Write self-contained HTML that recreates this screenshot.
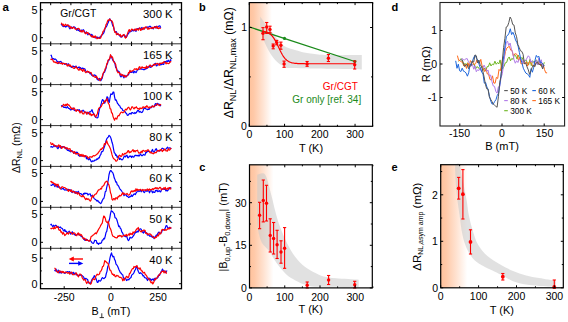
<!DOCTYPE html>
<html><head><meta charset="utf-8"><style>
html,body{margin:0;padding:0;background:#fff;width:568px;height:322px;overflow:hidden}
svg{display:block;font-family:"Liberation Sans", sans-serif}
</style></head><body>
<svg width="568" height="322" viewBox="0 0 568 322">
<rect width="568" height="322" fill="#fff"/>
<line x1="40.50" y1="43.80" x2="181.50" y2="43.80" stroke="#333" stroke-width="1"/>
<line x1="50.70" y1="41.60" x2="50.70" y2="46.00" stroke="#000" stroke-width="1.1"/>
<line x1="70.90" y1="41.60" x2="70.90" y2="46.00" stroke="#000" stroke-width="1.1"/>
<line x1="91.10" y1="41.60" x2="91.10" y2="46.00" stroke="#000" stroke-width="1.1"/>
<line x1="111.30" y1="41.60" x2="111.30" y2="46.00" stroke="#000" stroke-width="1.1"/>
<line x1="131.50" y1="41.60" x2="131.50" y2="46.00" stroke="#000" stroke-width="1.1"/>
<line x1="151.70" y1="41.60" x2="151.70" y2="46.00" stroke="#000" stroke-width="1.1"/>
<line x1="171.90" y1="41.60" x2="171.90" y2="46.00" stroke="#000" stroke-width="1.1"/>
<line x1="60.80" y1="42.90" x2="60.80" y2="44.70" stroke="#000" stroke-width="1.1"/>
<line x1="81.00" y1="42.90" x2="81.00" y2="44.70" stroke="#000" stroke-width="1.1"/>
<line x1="101.20" y1="42.90" x2="101.20" y2="44.70" stroke="#000" stroke-width="1.1"/>
<line x1="121.40" y1="42.90" x2="121.40" y2="44.70" stroke="#000" stroke-width="1.1"/>
<line x1="141.60" y1="42.90" x2="141.60" y2="44.70" stroke="#000" stroke-width="1.1"/>
<line x1="161.80" y1="42.90" x2="161.80" y2="44.70" stroke="#000" stroke-width="1.1"/>
<line x1="40.50" y1="84.60" x2="181.50" y2="84.60" stroke="#333" stroke-width="1"/>
<line x1="50.70" y1="82.40" x2="50.70" y2="86.80" stroke="#000" stroke-width="1.1"/>
<line x1="70.90" y1="82.40" x2="70.90" y2="86.80" stroke="#000" stroke-width="1.1"/>
<line x1="91.10" y1="82.40" x2="91.10" y2="86.80" stroke="#000" stroke-width="1.1"/>
<line x1="111.30" y1="82.40" x2="111.30" y2="86.80" stroke="#000" stroke-width="1.1"/>
<line x1="131.50" y1="82.40" x2="131.50" y2="86.80" stroke="#000" stroke-width="1.1"/>
<line x1="151.70" y1="82.40" x2="151.70" y2="86.80" stroke="#000" stroke-width="1.1"/>
<line x1="171.90" y1="82.40" x2="171.90" y2="86.80" stroke="#000" stroke-width="1.1"/>
<line x1="60.80" y1="83.70" x2="60.80" y2="85.50" stroke="#000" stroke-width="1.1"/>
<line x1="81.00" y1="83.70" x2="81.00" y2="85.50" stroke="#000" stroke-width="1.1"/>
<line x1="101.20" y1="83.70" x2="101.20" y2="85.50" stroke="#000" stroke-width="1.1"/>
<line x1="121.40" y1="83.70" x2="121.40" y2="85.50" stroke="#000" stroke-width="1.1"/>
<line x1="141.60" y1="83.70" x2="141.60" y2="85.50" stroke="#000" stroke-width="1.1"/>
<line x1="161.80" y1="83.70" x2="161.80" y2="85.50" stroke="#000" stroke-width="1.1"/>
<line x1="40.50" y1="125.60" x2="181.50" y2="125.60" stroke="#333" stroke-width="1"/>
<line x1="50.70" y1="123.40" x2="50.70" y2="127.80" stroke="#000" stroke-width="1.1"/>
<line x1="70.90" y1="123.40" x2="70.90" y2="127.80" stroke="#000" stroke-width="1.1"/>
<line x1="91.10" y1="123.40" x2="91.10" y2="127.80" stroke="#000" stroke-width="1.1"/>
<line x1="111.30" y1="123.40" x2="111.30" y2="127.80" stroke="#000" stroke-width="1.1"/>
<line x1="131.50" y1="123.40" x2="131.50" y2="127.80" stroke="#000" stroke-width="1.1"/>
<line x1="151.70" y1="123.40" x2="151.70" y2="127.80" stroke="#000" stroke-width="1.1"/>
<line x1="171.90" y1="123.40" x2="171.90" y2="127.80" stroke="#000" stroke-width="1.1"/>
<line x1="60.80" y1="124.70" x2="60.80" y2="126.50" stroke="#000" stroke-width="1.1"/>
<line x1="81.00" y1="124.70" x2="81.00" y2="126.50" stroke="#000" stroke-width="1.1"/>
<line x1="101.20" y1="124.70" x2="101.20" y2="126.50" stroke="#000" stroke-width="1.1"/>
<line x1="121.40" y1="124.70" x2="121.40" y2="126.50" stroke="#000" stroke-width="1.1"/>
<line x1="141.60" y1="124.70" x2="141.60" y2="126.50" stroke="#000" stroke-width="1.1"/>
<line x1="161.80" y1="124.70" x2="161.80" y2="126.50" stroke="#000" stroke-width="1.1"/>
<line x1="40.50" y1="166.40" x2="181.50" y2="166.40" stroke="#333" stroke-width="1"/>
<line x1="50.70" y1="164.20" x2="50.70" y2="168.60" stroke="#000" stroke-width="1.1"/>
<line x1="70.90" y1="164.20" x2="70.90" y2="168.60" stroke="#000" stroke-width="1.1"/>
<line x1="91.10" y1="164.20" x2="91.10" y2="168.60" stroke="#000" stroke-width="1.1"/>
<line x1="111.30" y1="164.20" x2="111.30" y2="168.60" stroke="#000" stroke-width="1.1"/>
<line x1="131.50" y1="164.20" x2="131.50" y2="168.60" stroke="#000" stroke-width="1.1"/>
<line x1="151.70" y1="164.20" x2="151.70" y2="168.60" stroke="#000" stroke-width="1.1"/>
<line x1="171.90" y1="164.20" x2="171.90" y2="168.60" stroke="#000" stroke-width="1.1"/>
<line x1="60.80" y1="165.50" x2="60.80" y2="167.30" stroke="#000" stroke-width="1.1"/>
<line x1="81.00" y1="165.50" x2="81.00" y2="167.30" stroke="#000" stroke-width="1.1"/>
<line x1="101.20" y1="165.50" x2="101.20" y2="167.30" stroke="#000" stroke-width="1.1"/>
<line x1="121.40" y1="165.50" x2="121.40" y2="167.30" stroke="#000" stroke-width="1.1"/>
<line x1="141.60" y1="165.50" x2="141.60" y2="167.30" stroke="#000" stroke-width="1.1"/>
<line x1="161.80" y1="165.50" x2="161.80" y2="167.30" stroke="#000" stroke-width="1.1"/>
<line x1="40.50" y1="207.30" x2="181.50" y2="207.30" stroke="#333" stroke-width="1"/>
<line x1="50.70" y1="205.10" x2="50.70" y2="209.50" stroke="#000" stroke-width="1.1"/>
<line x1="70.90" y1="205.10" x2="70.90" y2="209.50" stroke="#000" stroke-width="1.1"/>
<line x1="91.10" y1="205.10" x2="91.10" y2="209.50" stroke="#000" stroke-width="1.1"/>
<line x1="111.30" y1="205.10" x2="111.30" y2="209.50" stroke="#000" stroke-width="1.1"/>
<line x1="131.50" y1="205.10" x2="131.50" y2="209.50" stroke="#000" stroke-width="1.1"/>
<line x1="151.70" y1="205.10" x2="151.70" y2="209.50" stroke="#000" stroke-width="1.1"/>
<line x1="171.90" y1="205.10" x2="171.90" y2="209.50" stroke="#000" stroke-width="1.1"/>
<line x1="60.80" y1="206.40" x2="60.80" y2="208.20" stroke="#000" stroke-width="1.1"/>
<line x1="81.00" y1="206.40" x2="81.00" y2="208.20" stroke="#000" stroke-width="1.1"/>
<line x1="101.20" y1="206.40" x2="101.20" y2="208.20" stroke="#000" stroke-width="1.1"/>
<line x1="121.40" y1="206.40" x2="121.40" y2="208.20" stroke="#000" stroke-width="1.1"/>
<line x1="141.60" y1="206.40" x2="141.60" y2="208.20" stroke="#000" stroke-width="1.1"/>
<line x1="161.80" y1="206.40" x2="161.80" y2="208.20" stroke="#000" stroke-width="1.1"/>
<line x1="40.50" y1="248.30" x2="181.50" y2="248.30" stroke="#333" stroke-width="1"/>
<line x1="50.70" y1="246.10" x2="50.70" y2="250.50" stroke="#000" stroke-width="1.1"/>
<line x1="70.90" y1="246.10" x2="70.90" y2="250.50" stroke="#000" stroke-width="1.1"/>
<line x1="91.10" y1="246.10" x2="91.10" y2="250.50" stroke="#000" stroke-width="1.1"/>
<line x1="111.30" y1="246.10" x2="111.30" y2="250.50" stroke="#000" stroke-width="1.1"/>
<line x1="131.50" y1="246.10" x2="131.50" y2="250.50" stroke="#000" stroke-width="1.1"/>
<line x1="151.70" y1="246.10" x2="151.70" y2="250.50" stroke="#000" stroke-width="1.1"/>
<line x1="171.90" y1="246.10" x2="171.90" y2="250.50" stroke="#000" stroke-width="1.1"/>
<line x1="60.80" y1="247.40" x2="60.80" y2="249.20" stroke="#000" stroke-width="1.1"/>
<line x1="81.00" y1="247.40" x2="81.00" y2="249.20" stroke="#000" stroke-width="1.1"/>
<line x1="101.20" y1="247.40" x2="101.20" y2="249.20" stroke="#000" stroke-width="1.1"/>
<line x1="121.40" y1="247.40" x2="121.40" y2="249.20" stroke="#000" stroke-width="1.1"/>
<line x1="141.60" y1="247.40" x2="141.60" y2="249.20" stroke="#000" stroke-width="1.1"/>
<line x1="161.80" y1="247.40" x2="161.80" y2="249.20" stroke="#000" stroke-width="1.1"/>
<line x1="50.70" y1="2.70" x2="50.70" y2="5.20" stroke="#000" stroke-width="1"/>
<line x1="70.90" y1="2.70" x2="70.90" y2="5.20" stroke="#000" stroke-width="1"/>
<line x1="91.10" y1="2.70" x2="91.10" y2="5.20" stroke="#000" stroke-width="1"/>
<line x1="111.30" y1="2.70" x2="111.30" y2="5.20" stroke="#000" stroke-width="1"/>
<line x1="131.50" y1="2.70" x2="131.50" y2="5.20" stroke="#000" stroke-width="1"/>
<line x1="151.70" y1="2.70" x2="151.70" y2="5.20" stroke="#000" stroke-width="1"/>
<line x1="171.90" y1="2.70" x2="171.90" y2="5.20" stroke="#000" stroke-width="1"/>
<line x1="60.80" y1="2.70" x2="60.80" y2="3.90" stroke="#000" stroke-width="1"/>
<line x1="81.00" y1="2.70" x2="81.00" y2="3.90" stroke="#000" stroke-width="1"/>
<line x1="101.20" y1="2.70" x2="101.20" y2="3.90" stroke="#000" stroke-width="1"/>
<line x1="121.40" y1="2.70" x2="121.40" y2="3.90" stroke="#000" stroke-width="1"/>
<line x1="141.60" y1="2.70" x2="141.60" y2="3.90" stroke="#000" stroke-width="1"/>
<line x1="161.80" y1="2.70" x2="161.80" y2="3.90" stroke="#000" stroke-width="1"/>
<line x1="64.20" y1="288.70" x2="64.20" y2="286.20" stroke="#000" stroke-width="1"/>
<line x1="87.70" y1="288.70" x2="87.70" y2="287.20" stroke="#000" stroke-width="1"/>
<line x1="111.10" y1="288.70" x2="111.10" y2="286.20" stroke="#000" stroke-width="1"/>
<line x1="134.60" y1="288.70" x2="134.60" y2="287.20" stroke="#000" stroke-width="1"/>
<line x1="158.10" y1="288.70" x2="158.10" y2="286.20" stroke="#000" stroke-width="1"/>
<line x1="40.50" y1="9.80" x2="43.00" y2="9.80" stroke="#000" stroke-width="1"/>
<line x1="181.50" y1="9.80" x2="179.00" y2="9.80" stroke="#000" stroke-width="1"/>
<line x1="40.50" y1="37.70" x2="43.00" y2="37.70" stroke="#000" stroke-width="1"/>
<line x1="181.50" y1="37.70" x2="179.00" y2="37.70" stroke="#000" stroke-width="1"/>
<line x1="40.50" y1="23.75" x2="41.80" y2="23.75" stroke="#000" stroke-width="1"/>
<line x1="181.50" y1="23.75" x2="180.20" y2="23.75" stroke="#000" stroke-width="1"/>
<text x="37.60" y="13.70" font-size="10.8" text-anchor="end" font-weight="normal" fill="#000">5</text>
<text x="37.60" y="41.60" font-size="10.8" text-anchor="end" font-weight="normal" fill="#000">0</text>
<line x1="40.50" y1="50.90" x2="43.00" y2="50.90" stroke="#000" stroke-width="1"/>
<line x1="181.50" y1="50.90" x2="179.00" y2="50.90" stroke="#000" stroke-width="1"/>
<line x1="40.50" y1="78.80" x2="43.00" y2="78.80" stroke="#000" stroke-width="1"/>
<line x1="181.50" y1="78.80" x2="179.00" y2="78.80" stroke="#000" stroke-width="1"/>
<line x1="40.50" y1="64.85" x2="41.80" y2="64.85" stroke="#000" stroke-width="1"/>
<line x1="181.50" y1="64.85" x2="180.20" y2="64.85" stroke="#000" stroke-width="1"/>
<text x="37.60" y="54.80" font-size="10.8" text-anchor="end" font-weight="normal" fill="#000">5</text>
<text x="37.60" y="82.70" font-size="10.8" text-anchor="end" font-weight="normal" fill="#000">0</text>
<line x1="40.50" y1="91.70" x2="43.00" y2="91.70" stroke="#000" stroke-width="1"/>
<line x1="181.50" y1="91.70" x2="179.00" y2="91.70" stroke="#000" stroke-width="1"/>
<line x1="40.50" y1="119.60" x2="43.00" y2="119.60" stroke="#000" stroke-width="1"/>
<line x1="181.50" y1="119.60" x2="179.00" y2="119.60" stroke="#000" stroke-width="1"/>
<line x1="40.50" y1="105.65" x2="41.80" y2="105.65" stroke="#000" stroke-width="1"/>
<line x1="181.50" y1="105.65" x2="180.20" y2="105.65" stroke="#000" stroke-width="1"/>
<text x="37.60" y="95.60" font-size="10.8" text-anchor="end" font-weight="normal" fill="#000">5</text>
<text x="37.60" y="123.50" font-size="10.8" text-anchor="end" font-weight="normal" fill="#000">0</text>
<line x1="40.50" y1="132.70" x2="43.00" y2="132.70" stroke="#000" stroke-width="1"/>
<line x1="181.50" y1="132.70" x2="179.00" y2="132.70" stroke="#000" stroke-width="1"/>
<line x1="40.50" y1="160.60" x2="43.00" y2="160.60" stroke="#000" stroke-width="1"/>
<line x1="181.50" y1="160.60" x2="179.00" y2="160.60" stroke="#000" stroke-width="1"/>
<line x1="40.50" y1="146.65" x2="41.80" y2="146.65" stroke="#000" stroke-width="1"/>
<line x1="181.50" y1="146.65" x2="180.20" y2="146.65" stroke="#000" stroke-width="1"/>
<text x="37.60" y="136.60" font-size="10.8" text-anchor="end" font-weight="normal" fill="#000">5</text>
<text x="37.60" y="164.50" font-size="10.8" text-anchor="end" font-weight="normal" fill="#000">0</text>
<line x1="40.50" y1="173.50" x2="43.00" y2="173.50" stroke="#000" stroke-width="1"/>
<line x1="181.50" y1="173.50" x2="179.00" y2="173.50" stroke="#000" stroke-width="1"/>
<line x1="40.50" y1="201.40" x2="43.00" y2="201.40" stroke="#000" stroke-width="1"/>
<line x1="181.50" y1="201.40" x2="179.00" y2="201.40" stroke="#000" stroke-width="1"/>
<line x1="40.50" y1="187.45" x2="41.80" y2="187.45" stroke="#000" stroke-width="1"/>
<line x1="181.50" y1="187.45" x2="180.20" y2="187.45" stroke="#000" stroke-width="1"/>
<text x="37.60" y="177.40" font-size="10.8" text-anchor="end" font-weight="normal" fill="#000">5</text>
<text x="37.60" y="205.30" font-size="10.8" text-anchor="end" font-weight="normal" fill="#000">0</text>
<line x1="40.50" y1="214.40" x2="43.00" y2="214.40" stroke="#000" stroke-width="1"/>
<line x1="181.50" y1="214.40" x2="179.00" y2="214.40" stroke="#000" stroke-width="1"/>
<line x1="40.50" y1="242.30" x2="43.00" y2="242.30" stroke="#000" stroke-width="1"/>
<line x1="181.50" y1="242.30" x2="179.00" y2="242.30" stroke="#000" stroke-width="1"/>
<line x1="40.50" y1="228.35" x2="41.80" y2="228.35" stroke="#000" stroke-width="1"/>
<line x1="181.50" y1="228.35" x2="180.20" y2="228.35" stroke="#000" stroke-width="1"/>
<text x="37.60" y="218.30" font-size="10.8" text-anchor="end" font-weight="normal" fill="#000">5</text>
<text x="37.60" y="246.20" font-size="10.8" text-anchor="end" font-weight="normal" fill="#000">0</text>
<line x1="40.50" y1="258.10" x2="43.00" y2="258.10" stroke="#000" stroke-width="1"/>
<line x1="181.50" y1="258.10" x2="179.00" y2="258.10" stroke="#000" stroke-width="1"/>
<line x1="40.50" y1="283.70" x2="43.00" y2="283.70" stroke="#000" stroke-width="1"/>
<line x1="181.50" y1="283.70" x2="179.00" y2="283.70" stroke="#000" stroke-width="1"/>
<line x1="40.50" y1="270.90" x2="41.80" y2="270.90" stroke="#000" stroke-width="1"/>
<line x1="181.50" y1="270.90" x2="180.20" y2="270.90" stroke="#000" stroke-width="1"/>
<text x="37.60" y="262.00" font-size="10.8" text-anchor="end" font-weight="normal" fill="#000">5</text>
<text x="37.60" y="287.60" font-size="10.8" text-anchor="end" font-weight="normal" fill="#000">0</text>
<rect x="40.5" y="2.7" width="141.0" height="286.0" fill="none" stroke="#000" stroke-width="1.3"/>
<text x="172.60" y="18.20" font-size="11.3" text-anchor="end" font-weight="normal" fill="#000">300 K</text>
<text x="172.60" y="59.30" font-size="11.3" text-anchor="end" font-weight="normal" fill="#000">165 K</text>
<text x="172.60" y="100.10" font-size="11.3" text-anchor="end" font-weight="normal" fill="#000">100 K</text>
<text x="172.60" y="141.10" font-size="11.3" text-anchor="end" font-weight="normal" fill="#000">80 K</text>
<text x="172.60" y="181.90" font-size="11.3" text-anchor="end" font-weight="normal" fill="#000">60 K</text>
<text x="172.60" y="222.80" font-size="11.3" text-anchor="end" font-weight="normal" fill="#000">50 K</text>
<text x="172.60" y="263.80" font-size="11.3" text-anchor="end" font-weight="normal" fill="#000">40 K</text>
<text x="60.20" y="17.40" font-size="10.3" text-anchor="start" font-weight="normal" fill="#000">Gr/CGT</text>
<polyline points="61.00,23.94 61.75,24.73 62.50,26.04 63.25,26.36 64.00,26.67 64.75,25.99 65.50,27.02 66.25,26.65 67.00,25.31 67.75,26.16 68.50,25.32 69.25,27.85 70.00,28.78 70.75,27.35 71.50,26.97 72.25,28.36 73.00,27.21 73.75,26.92 74.50,26.99 75.25,27.61 76.00,28.76 76.75,30.25 77.50,28.56 78.25,30.55 79.00,30.16 79.75,31.30 80.50,31.61 81.25,29.95 82.00,31.13 82.75,30.14 83.50,29.70 84.25,30.96 85.00,32.68 85.75,32.80 86.50,31.93 87.25,33.84 88.00,34.84 88.75,33.33 89.50,33.73 90.25,34.66 91.00,36.01 91.75,34.35 92.50,35.39 93.25,37.21 94.00,36.93 94.75,37.38 95.50,37.91 96.25,37.48 97.00,36.92 97.75,37.88 98.50,38.01 99.25,37.07 100.00,38.05 100.75,36.59 101.50,35.36 102.25,34.88 103.00,33.95 103.75,32.97 104.50,30.72 105.25,27.56 106.00,27.15 106.75,25.97 107.50,23.92 108.25,22.51 109.00,20.32 109.75,18.79 110.50,20.35 111.25,20.49 112.00,23.08 112.75,25.92 113.50,26.39 114.25,29.89 115.00,32.08 115.75,31.49 116.50,31.87 117.25,34.38 118.00,34.13 118.75,34.48 119.50,35.72 120.25,36.39 121.00,37.08 121.75,36.95 122.50,36.21 123.25,35.07 124.00,35.09 124.75,35.38 125.50,36.52 126.25,37.49 127.00,36.02 127.75,34.13 128.50,33.77 129.25,31.65 130.00,31.93 130.75,31.50 131.50,31.26 132.25,30.50 133.00,30.48 133.75,30.90 134.50,29.36 135.25,30.77 136.00,31.36 136.75,29.02 137.50,28.72 138.25,28.74 139.00,28.24 139.75,28.18 140.50,29.49 141.25,28.13 142.00,27.38 142.75,29.61 143.50,28.47 144.25,28.36 145.00,27.96 145.75,27.46 146.50,27.60 147.25,26.82 148.00,27.69 148.75,26.93 149.50,26.34 150.25,26.31 151.00,26.87 151.75,28.55 152.50,28.01 153.25,28.96 154.00,27.46 154.75,26.55 155.50,27.58 156.25,26.29 157.00,28.28 157.75,27.01 158.50,26.23 159.25,25.95 160.00,25.93 160.75,27.77" fill="none" stroke="#0000ff" stroke-width="1.2" stroke-linejoin="round"/>
<polyline points="61.00,23.14 61.75,23.43 62.50,25.19 63.25,24.18 64.00,26.19 64.75,25.17 65.50,24.26 66.25,25.43 67.00,25.12 67.75,24.74 68.50,25.56 69.25,26.52 70.00,26.16 70.75,28.19 71.50,27.30 72.25,28.40 73.00,27.84 73.75,27.08 74.50,28.01 75.25,29.20 76.00,29.12 76.75,29.72 77.50,28.50 78.25,28.40 79.00,28.54 79.75,29.86 80.50,31.57 81.25,30.84 82.00,32.13 82.75,30.59 83.50,30.67 84.25,32.23 85.00,33.23 85.75,33.76 86.50,32.17 87.25,33.08 88.00,32.63 88.75,34.23 89.50,34.40 90.25,35.01 91.00,35.76 91.75,36.85 92.50,35.88 93.25,37.44 94.00,36.04 94.75,37.60 95.50,35.96 96.25,37.53 97.00,38.76 97.75,38.33 98.50,37.65 99.25,38.41 100.00,38.33 100.75,37.73 101.50,35.29 102.25,34.11 103.00,31.29 103.75,31.08 104.50,29.06 105.25,28.20 106.00,24.66 106.75,23.57 107.50,21.06 108.25,19.96 109.00,20.44 109.75,19.03 110.50,20.17 111.25,20.72 112.00,21.14 112.75,22.66 113.50,26.44 114.25,30.57 115.00,32.40 115.75,31.86 116.50,34.74 117.25,34.13 118.00,33.51 118.75,34.84 119.50,35.24 120.25,34.39 121.00,36.87 121.75,35.91 122.50,35.89 123.25,34.85 124.00,34.47 124.75,37.19 125.50,38.07 126.25,37.33 127.00,35.15 127.75,32.91 128.50,30.87 129.25,29.51 130.00,31.46 130.75,30.83 131.50,29.16 132.25,29.24 133.00,29.83 133.75,30.12 134.50,30.15 135.25,28.95 136.00,30.52 136.75,28.83 137.50,29.30 138.25,30.24 139.00,28.60 139.75,27.79 140.50,30.34 141.25,30.11 142.00,28.43 142.75,29.23 143.50,27.69 144.25,29.30 145.00,27.31 145.75,26.92 146.50,27.10 147.25,28.32 148.00,29.38 148.75,27.78 149.50,28.85 150.25,28.05 151.00,27.91 151.75,28.48 152.50,27.30 153.25,28.32 154.00,27.49 154.75,26.64 155.50,27.80 156.25,27.72 157.00,26.24 157.75,28.47 158.50,28.57 159.25,27.60 160.00,28.31 160.75,28.40" fill="none" stroke="#ff0000" stroke-width="1.2" stroke-linejoin="round"/>
<polyline points="50.50,55.54 51.25,55.18 52.00,57.88 52.75,59.07 53.50,58.56 54.25,59.50 55.00,58.93 55.75,59.29 56.50,60.10 57.25,62.05 58.00,61.37 58.75,63.54 59.50,61.65 60.25,61.60 61.00,61.42 61.75,63.56 62.50,63.15 63.25,63.49 64.00,63.31 64.75,64.34 65.50,64.10 66.25,63.60 67.00,64.26 67.75,64.24 68.50,63.80 69.25,65.96 70.00,66.33 70.75,66.55 71.50,67.42 72.25,66.37 73.00,66.16 73.75,66.38 74.50,66.54 75.25,67.54 76.00,66.00 76.75,67.07 77.50,67.75 78.25,67.61 79.00,66.80 79.75,68.80 80.50,67.52 81.25,69.00 82.00,68.42 82.75,68.09 83.50,68.63 84.25,68.65 85.00,69.11 85.75,71.05 86.50,71.97 87.25,71.35 88.00,72.23 88.75,72.16 89.50,72.42 90.25,73.95 91.00,73.26 91.75,75.19 92.50,75.69 93.25,76.28 94.00,74.89 94.75,75.17 95.50,75.40 96.25,76.62 97.00,79.03 97.75,79.79 98.50,80.16 99.25,78.36 100.00,79.83 100.75,80.72 101.50,79.59 102.25,78.09 103.00,74.62 103.75,72.63 104.50,72.23 105.25,70.19 106.00,68.36 106.75,64.81 107.50,63.68 108.25,60.06 109.00,60.27 109.75,58.94 110.50,56.12 111.25,55.98 112.00,58.19 112.75,60.07 113.50,61.01 114.25,61.79 115.00,64.02 115.75,67.65 116.50,67.86 117.25,71.24 118.00,70.93 118.75,71.51 119.50,72.20 120.25,75.82 121.00,76.95 121.75,75.73 122.50,74.96 123.25,76.66 124.00,77.86 124.75,75.25 125.50,76.11 126.25,76.82 127.00,75.61 127.75,75.11 128.50,74.77 129.25,72.23 130.00,71.57 130.75,72.50 131.50,72.36 132.25,72.17 133.00,71.42 133.75,72.91 134.50,71.32 135.25,71.92 136.00,72.65 136.75,71.30 137.50,69.76 138.25,69.71 139.00,69.14 139.75,69.09 140.50,68.77 141.25,69.14 142.00,69.15 142.75,69.19 143.50,69.67 144.25,69.65 145.00,69.49 145.75,68.28 146.50,68.62 147.25,68.19 148.00,66.61 148.75,67.19 149.50,66.50 150.25,67.17 151.00,67.36 151.75,65.74 152.50,65.64 153.25,65.53 154.00,64.86 154.75,63.73 155.50,63.26 156.25,65.79 157.00,65.63 157.75,64.52 158.50,64.72 159.25,63.42 160.00,64.20 160.75,64.99 161.50,64.54 162.25,63.32 163.00,64.35 163.75,64.32 164.50,61.55 165.25,61.63 166.00,61.61 166.75,60.91 167.50,61.57 168.25,60.19 169.00,61.43 169.75,61.97 170.50,59.59 171.25,60.61" fill="none" stroke="#0000ff" stroke-width="1.2" stroke-linejoin="round"/>
<polyline points="50.50,59.00 51.25,59.62 52.00,59.01 52.75,59.83 53.50,61.65 54.25,62.18 55.00,61.83 55.75,62.75 56.50,62.28 57.25,63.54 58.00,63.31 58.75,61.98 59.50,63.02 60.25,63.21 61.00,63.60 61.75,62.90 62.50,64.29 63.25,63.34 64.00,63.53 64.75,63.57 65.50,63.81 66.25,63.78 67.00,65.64 67.75,66.08 68.50,64.46 69.25,65.77 70.00,64.82 70.75,66.38 71.50,66.29 72.25,66.81 73.00,67.79 73.75,68.29 74.50,68.30 75.25,67.29 76.00,66.54 76.75,67.94 77.50,68.36 78.25,69.76 79.00,70.32 79.75,68.59 80.50,68.92 81.25,70.10 82.00,69.76 82.75,71.48 83.50,69.32 84.25,70.05 85.00,71.74 85.75,72.74 86.50,71.89 87.25,71.06 88.00,72.01 88.75,71.66 89.50,72.86 90.25,72.48 91.00,72.46 91.75,74.10 92.50,75.61 93.25,75.68 94.00,76.47 94.75,77.11 95.50,77.43 96.25,76.13 97.00,77.06 97.75,79.05 98.50,78.77 99.25,79.71 100.00,80.72 100.75,78.49 101.50,78.42 102.25,76.59 103.00,73.53 103.75,72.22 104.50,70.95 105.25,68.66 106.00,67.48 106.75,63.85 107.50,62.62 108.25,60.02 109.00,59.60 109.75,58.35 110.50,54.69 111.25,57.10 112.00,56.51 112.75,57.80 113.50,61.34 114.25,62.50 115.00,63.02 115.75,64.54 116.50,69.35 117.25,71.21 118.00,72.85 118.75,72.30 119.50,72.85 120.25,74.99 121.00,74.00 121.75,75.51 122.50,74.88 123.25,75.03 124.00,76.77 124.75,75.42 125.50,77.06 126.25,76.38 127.00,75.76 127.75,75.14 128.50,72.56 129.25,72.97 130.00,70.28 130.75,71.98 131.50,71.19 132.25,71.00 133.00,70.59 133.75,69.83 134.50,68.77 135.25,68.84 136.00,69.56 136.75,68.61 137.50,69.61 138.25,69.44 139.00,67.22 139.75,66.60 140.50,68.62 141.25,68.19 142.00,66.77 142.75,67.45 143.50,67.62 144.25,68.06 145.00,67.40 145.75,68.48 146.50,65.97 147.25,67.74 148.00,67.64 148.75,66.53 149.50,65.29 150.25,64.95 151.00,66.44 151.75,66.68 152.50,66.26 153.25,64.67 154.00,64.13 154.75,65.02 155.50,64.03 156.25,64.19 157.00,63.32 157.75,63.54 158.50,64.48 159.25,65.40 160.00,63.20 160.75,63.28 161.50,63.29 162.25,62.85 163.00,63.17 163.75,61.93 164.50,62.01 165.25,62.15 166.00,63.86 166.75,62.58 167.50,63.26 168.25,63.58 169.00,63.35 169.75,62.39 170.50,61.63 171.25,61.92" fill="none" stroke="#ff0000" stroke-width="1.2" stroke-linejoin="round"/>
<polyline points="61.30,105.24 62.05,106.53 62.80,105.71 63.55,107.23 64.30,107.50 65.05,107.05 65.80,107.75 66.55,107.95 67.30,106.57 68.05,107.75 68.80,108.51 69.55,108.58 70.30,109.81 71.05,109.89 71.80,108.97 72.55,108.38 73.30,108.04 74.05,110.13 74.80,110.53 75.55,110.54 76.30,110.18 77.05,110.38 77.80,109.73 78.55,110.55 79.30,109.75 80.05,111.04 80.80,111.56 81.55,111.94 82.30,110.89 83.05,110.21 83.80,110.84 84.55,112.20 85.30,112.18 86.05,112.99 86.80,112.39 87.55,112.21 88.30,113.79 89.05,112.15 89.80,111.88 90.55,111.84 91.30,110.78 92.05,109.63 92.80,112.46 93.55,113.48 94.30,114.91 95.05,116.58 95.80,117.47 96.55,117.76 97.30,117.93 98.05,117.22 98.80,112.30 99.55,108.80 100.30,107.22 101.05,104.53 101.80,101.19 102.55,99.59 103.30,100.30 104.05,102.93 104.80,103.05 105.55,100.58 106.30,99.75 107.05,96.74 107.80,97.46 108.55,101.12 109.30,102.48 110.05,97.53 110.80,93.81 111.55,94.47 112.30,94.23 113.05,92.01 113.80,92.13 114.55,96.83 115.30,100.13 116.05,99.80 116.80,101.47 117.55,103.67 118.30,104.08 119.05,105.56 119.80,105.87 120.55,107.71 121.30,108.24 122.05,108.69 122.80,110.49 123.55,110.75 124.30,111.06 125.05,111.65 125.80,113.01 126.55,113.51 127.30,115.29 128.05,115.27 128.80,114.33 129.55,113.50 130.30,113.26 131.05,114.21 131.80,112.55 132.55,112.52 133.30,113.22 134.05,113.55 134.80,112.49 135.55,113.26 136.30,112.83 137.05,111.39 137.80,110.50 138.55,110.41 139.30,112.18 140.05,111.31 140.80,112.14 141.55,112.55 142.30,112.30 143.05,110.65 143.80,108.55 144.55,108.50 145.30,108.08 146.05,109.02 146.80,109.24 147.55,109.74 148.30,109.01 149.05,109.33 149.80,108.23 150.55,107.19 151.30,107.74 152.05,105.99 152.80,106.75 153.55,106.60 154.30,106.75 155.05,104.15 155.80,103.52 156.55,105.40 157.30,103.31 158.05,103.69 158.80,104.36 159.55,104.27 160.30,105.51 161.05,106.17" fill="none" stroke="#0000ff" stroke-width="1.2" stroke-linejoin="round"/>
<polyline points="61.30,107.09 62.05,106.60 62.80,105.50 63.55,104.27 64.30,105.08 65.05,105.95 65.80,104.33 66.55,105.47 67.30,103.77 68.05,105.07 68.80,104.81 69.55,105.95 70.30,106.97 71.05,108.35 71.80,108.09 72.55,109.39 73.30,108.48 74.05,107.95 74.80,109.13 75.55,110.57 76.30,111.32 77.05,109.86 77.80,110.27 78.55,110.48 79.30,111.33 80.05,112.88 80.80,111.69 81.55,110.79 82.30,113.20 83.05,113.96 83.80,114.02 84.55,111.97 85.30,112.15 86.05,112.08 86.80,114.39 87.55,112.84 88.30,112.51 89.05,112.82 89.80,114.75 90.55,113.64 91.30,115.75 92.05,114.44 92.80,115.17 93.55,114.10 94.30,114.17 95.05,116.00 95.80,117.04 96.55,115.17 97.30,113.98 98.05,110.53 98.80,108.17 99.55,107.67 100.30,107.37 101.05,106.82 101.80,105.36 102.55,103.60 103.30,103.48 104.05,102.06 104.80,100.86 105.55,101.62 106.30,99.92 107.05,98.46 107.80,101.70 108.55,103.72 109.30,104.76 110.05,108.64 110.80,108.98 111.55,112.86 112.30,113.09 113.05,116.60 113.80,118.46 114.55,120.17 115.30,118.14 116.05,118.38 116.80,119.09 117.55,116.59 118.30,115.46 119.05,115.78 119.80,114.14 120.55,112.96 121.30,112.02 122.05,112.27 122.80,112.80 123.55,112.06 124.30,111.94 125.05,109.84 125.80,109.11 126.55,109.95 127.30,108.65 128.05,107.50 128.80,107.19 129.55,108.76 130.30,110.01 131.05,108.87 131.80,106.92 132.55,106.77 133.30,108.05 134.05,108.89 134.80,107.44 135.55,107.84 136.30,106.71 137.05,107.94 137.80,109.00 138.55,108.60 139.30,109.39 140.05,107.89 140.80,108.62 141.55,108.16 142.30,108.32 143.05,106.68 143.80,107.23 144.55,107.80 145.30,106.72 146.05,107.25 146.80,105.71 147.55,106.35 148.30,108.01 149.05,107.53 149.80,106.87 150.55,107.67 151.30,107.28 152.05,106.51 152.80,105.78 153.55,106.97 154.30,106.29 155.05,105.77 155.80,105.16 156.55,104.23 157.30,103.96 158.05,105.02 158.80,105.05 159.55,105.67 160.30,104.79 161.05,104.23" fill="none" stroke="#ff0000" stroke-width="1.2" stroke-linejoin="round"/>
<polyline points="50.50,147.44 51.25,146.43 52.00,147.01 52.75,147.32 53.50,145.94 54.25,145.21 55.00,146.65 55.75,145.73 56.50,146.33 57.25,148.12 58.00,148.70 58.75,146.70 59.50,146.08 60.25,146.41 61.00,148.41 61.75,146.69 62.50,146.87 63.25,146.66 64.00,146.75 64.75,148.05 65.50,147.63 66.25,148.41 67.00,149.82 67.75,150.43 68.50,149.89 69.25,151.06 70.00,150.97 70.75,151.92 71.50,150.68 72.25,150.88 73.00,151.79 73.75,153.36 74.50,153.06 75.25,152.75 76.00,152.20 76.75,152.33 77.50,152.39 78.25,155.00 79.00,155.74 79.75,156.25 80.50,155.56 81.25,156.16 82.00,155.36 82.75,155.94 83.50,155.36 84.25,156.27 85.00,156.31 85.75,156.12 86.50,158.78 87.25,157.37 88.00,159.36 88.75,159.87 89.50,158.46 90.25,159.39 91.00,161.22 91.75,161.82 92.50,160.80 93.25,161.19 94.00,161.19 94.75,160.01 95.50,160.14 96.25,159.83 97.00,158.72 97.75,159.26 98.50,157.90 99.25,158.00 100.00,155.58 100.75,154.72 101.50,151.94 102.25,151.69 103.00,151.06 103.75,148.65 104.50,146.45 105.25,144.36 106.00,140.99 106.75,138.89 107.50,137.76 108.25,137.11 109.00,135.39 109.75,136.00 110.50,137.16 111.25,139.27 112.00,142.28 112.75,144.68 113.50,148.78 114.25,152.66 115.00,153.14 115.75,155.45 116.50,154.97 117.25,157.49 118.00,156.53 118.75,157.31 119.50,159.44 120.25,158.27 121.00,159.28 121.75,159.79 122.50,159.72 123.25,158.49 124.00,156.68 124.75,156.02 125.50,156.93 126.25,155.61 127.00,155.19 127.75,157.73 128.50,157.71 129.25,156.18 130.00,156.43 130.75,156.00 131.50,157.53 132.25,156.15 133.00,156.96 133.75,157.17 134.50,155.88 135.25,155.20 136.00,155.72 136.75,155.42 137.50,155.83 138.25,155.06 139.00,156.14 139.75,155.23 140.50,153.90 141.25,155.24 142.00,155.83 142.75,155.19 143.50,154.42 144.25,154.99 145.00,155.17 145.75,152.28 146.50,152.67 147.25,151.21 148.00,151.54 148.75,151.19 149.50,151.57 150.25,152.15 151.00,152.70 151.75,150.89 152.50,149.43 153.25,151.88 154.00,151.86 154.75,151.05 155.50,149.40 156.25,148.62 157.00,150.92 157.75,150.30 158.50,151.00 159.25,150.88 160.00,150.64 160.75,150.63 161.50,148.86 162.25,148.21 163.00,148.47 163.75,149.45 164.50,149.72 165.25,149.59 166.00,148.91 166.75,148.30 167.50,147.16 168.25,148.13 169.00,148.28 169.75,147.81 170.50,148.20 171.25,148.97" fill="none" stroke="#0000ff" stroke-width="1.2" stroke-linejoin="round"/>
<polyline points="50.50,142.27 51.25,144.39 52.00,144.46 52.75,143.49 53.50,145.06 54.25,145.14 55.00,146.02 55.75,145.80 56.50,146.23 57.25,146.68 58.00,145.69 58.75,144.81 59.50,147.11 60.25,145.62 61.00,146.66 61.75,148.44 62.50,147.21 63.25,146.74 64.00,147.12 64.75,146.86 65.50,148.67 66.25,148.12 67.00,147.54 67.75,149.18 68.50,148.92 69.25,148.85 70.00,148.59 70.75,151.23 71.50,150.90 72.25,151.71 73.00,151.85 73.75,153.31 74.50,151.60 75.25,153.03 76.00,154.30 76.75,153.29 77.50,153.70 78.25,153.68 79.00,153.83 79.75,155.92 80.50,154.58 81.25,155.89 82.00,154.39 82.75,156.33 83.50,155.00 84.25,156.91 85.00,155.50 85.75,155.71 86.50,156.10 87.25,156.46 88.00,158.23 88.75,158.14 89.50,156.91 90.25,156.83 91.00,156.86 91.75,157.28 92.50,156.73 93.25,155.61 94.00,155.79 94.75,155.79 95.50,155.34 96.25,154.86 97.00,154.08 97.75,153.63 98.50,152.25 99.25,151.35 100.00,150.32 100.75,149.01 101.50,149.53 102.25,147.90 103.00,148.35 103.75,146.21 104.50,143.52 105.25,144.40 106.00,142.79 106.75,140.70 107.50,143.38 108.25,144.62 109.00,145.74 109.75,147.22 110.50,148.88 111.25,151.54 112.00,154.65 112.75,156.96 113.50,158.46 114.25,159.11 115.00,159.54 115.75,161.09 116.50,161.11 117.25,160.41 118.00,158.42 118.75,155.97 119.50,155.22 120.25,155.73 121.00,156.52 121.75,155.91 122.50,153.65 123.25,155.08 124.00,154.36 124.75,153.30 125.50,153.89 126.25,152.83 127.00,152.75 127.75,151.03 128.50,150.51 129.25,152.77 130.00,151.76 130.75,152.42 131.50,151.20 132.25,150.75 133.00,149.61 133.75,151.70 134.50,150.55 135.25,151.85 136.00,150.59 136.75,150.69 137.50,150.19 138.25,151.96 139.00,153.27 139.75,152.84 140.50,152.58 141.25,151.21 142.00,152.80 142.75,150.66 143.50,150.32 144.25,151.05 145.00,151.39 145.75,150.58 146.50,151.31 147.25,150.17 148.00,149.70 148.75,150.76 149.50,151.60 150.25,152.83 151.00,152.03 151.75,153.26 152.50,153.19 153.25,153.85 154.00,153.33 154.75,152.38 155.50,152.63 156.25,152.71 157.00,151.31 157.75,150.52 158.50,150.61 159.25,151.17 160.00,149.75 160.75,150.11 161.50,149.47 162.25,151.52 163.00,150.56 163.75,150.50 164.50,149.08 165.25,149.46 166.00,150.99 166.75,150.94 167.50,151.04 168.25,148.70 169.00,149.96 169.75,150.07 170.50,148.69 171.25,148.05" fill="none" stroke="#ff0000" stroke-width="1.2" stroke-linejoin="round"/>
<polyline points="50.50,184.88 51.25,185.36 52.00,185.31 52.75,184.01 53.50,184.15 54.25,185.58 55.00,186.51 55.75,184.65 56.50,184.77 57.25,187.22 58.00,185.85 58.75,187.28 59.50,186.96 60.25,188.04 61.00,189.24 61.75,188.99 62.50,188.57 63.25,188.46 64.00,189.56 64.75,190.13 65.50,189.76 66.25,189.91 67.00,190.27 67.75,189.64 68.50,189.33 69.25,190.50 70.00,189.56 70.75,190.87 71.50,191.98 72.25,192.50 73.00,191.03 73.75,191.18 74.50,192.86 75.25,191.75 76.00,193.44 76.75,191.68 77.50,193.18 78.25,191.39 79.00,192.86 79.75,193.86 80.50,193.52 81.25,193.82 82.00,194.89 82.75,195.59 83.50,193.49 84.25,194.03 85.00,192.88 85.75,193.70 86.50,193.38 87.25,193.46 88.00,195.02 88.75,194.01 89.50,194.05 90.25,193.81 91.00,196.38 91.75,195.65 92.50,195.14 93.25,196.87 94.00,198.33 94.75,199.03 95.50,199.52 96.25,200.15 97.00,201.08 97.75,200.33 98.50,201.93 99.25,202.19 100.00,202.99 100.75,203.55 101.50,202.51 102.25,200.47 103.00,199.12 103.75,198.62 104.50,196.19 105.25,191.77 106.00,191.24 106.75,187.06 107.50,184.18 108.25,180.01 109.00,174.74 109.75,171.84 110.50,170.60 111.25,170.84 112.00,172.06 112.75,172.62 113.50,174.68 114.25,178.09 115.00,179.60 115.75,182.14 116.50,181.86 117.25,184.86 118.00,185.34 118.75,186.40 119.50,188.29 120.25,189.46 121.00,190.15 121.75,191.26 122.50,192.24 123.25,193.19 124.00,195.71 124.75,194.70 125.50,194.95 126.25,194.86 127.00,196.46 127.75,196.38 128.50,197.54 129.25,197.28 130.00,196.51 130.75,196.62 131.50,194.95 132.25,196.42 133.00,195.43 133.75,194.17 134.50,193.79 135.25,194.60 136.00,193.15 136.75,192.09 137.50,190.91 138.25,190.72 139.00,191.51 139.75,191.05 140.50,190.11 141.25,191.77 142.00,190.05 142.75,190.27 143.50,191.67 144.25,192.58 145.00,191.56 145.75,189.98 146.50,191.23 147.25,191.28 148.00,190.17 148.75,190.87 149.50,192.76 150.25,190.86 151.00,190.79 151.75,190.81 152.50,192.78 153.25,191.71 154.00,192.42 154.75,192.50 155.50,190.43 156.25,190.98 157.00,190.08 157.75,191.74 158.50,191.21 159.25,190.58 160.00,191.61 160.75,191.85 161.50,189.55 162.25,188.83 163.00,189.20 163.75,189.17 164.50,189.44 165.25,189.38 166.00,190.88 166.75,190.33 167.50,190.92 168.25,189.97 169.00,188.42 169.75,188.85 170.50,187.65 171.25,188.46" fill="none" stroke="#0000ff" stroke-width="1.2" stroke-linejoin="round"/>
<polyline points="50.50,181.99 51.25,181.31 52.00,182.84 52.75,182.19 53.50,183.29 54.25,183.41 55.00,184.78 55.75,183.82 56.50,186.20 57.25,184.48 58.00,184.19 58.75,186.16 59.50,187.93 60.25,188.33 61.00,188.58 61.75,186.88 62.50,186.75 63.25,187.25 64.00,187.47 64.75,187.57 65.50,188.17 66.25,188.72 67.00,188.88 67.75,190.54 68.50,191.28 69.25,189.56 70.00,190.37 70.75,191.39 71.50,189.77 72.25,192.18 73.00,191.92 73.75,191.65 74.50,191.60 75.25,193.24 76.00,192.77 76.75,192.52 77.50,194.14 78.25,192.69 79.00,193.41 79.75,195.31 80.50,195.93 81.25,196.24 82.00,196.86 82.75,195.24 83.50,196.63 84.25,196.86 85.00,198.71 85.75,199.50 86.50,198.31 87.25,199.49 88.00,198.82 88.75,199.06 89.50,200.37 90.25,201.12 91.00,200.16 91.75,197.48 92.50,195.67 93.25,197.14 94.00,195.71 94.75,194.67 95.50,194.03 96.25,193.85 97.00,192.45 97.75,191.07 98.50,189.86 99.25,189.78 100.00,189.47 100.75,188.45 101.50,188.94 102.25,186.23 103.00,186.14 103.75,185.55 104.50,183.73 105.25,182.13 106.00,181.85 106.75,181.08 107.50,181.92 108.25,183.84 109.00,185.15 109.75,188.25 110.50,192.75 111.25,194.63 112.00,199.27 112.75,200.23 113.50,198.68 114.25,198.58 115.00,199.92 115.75,197.74 116.50,197.95 117.25,199.01 118.00,196.68 118.75,196.95 119.50,195.36 120.25,195.93 121.00,195.60 121.75,194.40 122.50,192.65 123.25,194.38 124.00,193.18 124.75,194.25 125.50,194.20 126.25,194.09 127.00,193.44 127.75,194.41 128.50,195.18 129.25,194.67 130.00,194.09 130.75,191.88 131.50,190.86 132.25,191.74 133.00,190.83 133.75,191.54 134.50,190.26 135.25,191.32 136.00,188.72 136.75,190.62 137.50,189.22 138.25,190.10 139.00,189.83 139.75,189.85 140.50,189.35 141.25,190.20 142.00,190.77 142.75,189.47 143.50,190.20 144.25,189.90 145.00,190.24 145.75,189.91 146.50,190.35 147.25,188.97 148.00,189.24 148.75,190.61 149.50,188.95 150.25,190.03 151.00,189.54 151.75,189.42 152.50,188.68 153.25,189.83 154.00,188.44 154.75,188.53 155.50,187.76 156.25,188.57 157.00,187.61 157.75,188.67 158.50,188.88 159.25,187.74 160.00,187.30 160.75,187.99 161.50,189.77 162.25,189.03 163.00,189.06 163.75,187.79 164.50,189.08 165.25,187.36 166.00,189.49 166.75,189.00 167.50,188.21 168.25,189.32 169.00,187.58 169.75,187.53 170.50,188.79 171.25,189.33" fill="none" stroke="#ff0000" stroke-width="1.2" stroke-linejoin="round"/>
<polyline points="50.50,225.13 51.25,224.21 52.00,225.48 52.75,226.57 53.50,225.20 54.25,226.39 55.00,225.67 55.75,225.16 56.50,225.79 57.25,227.41 58.00,226.30 58.75,227.71 59.50,227.42 60.25,226.99 61.00,227.86 61.75,228.20 62.50,228.73 63.25,230.36 64.00,231.18 64.75,229.56 65.50,231.56 66.25,231.24 67.00,232.40 67.75,232.53 68.50,231.91 69.25,231.10 70.00,233.11 70.75,234.02 71.50,233.30 72.25,231.69 73.00,233.46 73.75,233.95 74.50,234.57 75.25,235.17 76.00,235.49 76.75,234.99 77.50,233.94 78.25,234.18 79.00,234.30 79.75,235.23 80.50,235.54 81.25,236.73 82.00,236.60 82.75,237.23 83.50,238.99 84.25,239.45 85.00,240.45 85.75,240.50 86.50,239.24 87.25,240.20 88.00,240.55 88.75,241.01 89.50,240.53 90.25,240.27 91.00,241.26 91.75,242.41 92.50,242.96 93.25,243.37 94.00,242.29 94.75,240.21 95.50,240.42 96.25,240.58 97.00,243.47 97.75,243.11 98.50,244.33 99.25,243.30 100.00,243.04 100.75,243.42 101.50,242.61 102.25,240.13 103.00,240.06 103.75,238.37 104.50,238.88 105.25,236.08 106.00,232.54 106.75,231.32 107.50,227.26 108.25,222.88 109.00,220.99 109.75,218.09 110.50,213.59 111.25,210.71 112.00,211.25 112.75,211.82 113.50,212.84 114.25,213.69 115.00,217.60 115.75,217.98 116.50,218.90 117.25,221.06 118.00,223.86 118.75,226.60 119.50,226.11 120.25,228.24 121.00,228.88 121.75,231.90 122.50,232.73 123.25,234.51 124.00,236.03 124.75,236.24 125.50,236.76 126.25,236.20 127.00,237.15 127.75,239.68 128.50,240.63 129.25,239.53 130.00,237.09 130.75,237.93 131.50,237.96 132.25,237.47 133.00,236.48 133.75,235.48 134.50,233.83 135.25,232.95 136.00,231.74 136.75,232.32 137.50,231.15 138.25,231.79 139.00,229.82 139.75,229.08 140.50,228.74 141.25,229.43 142.00,231.33 142.75,232.25 143.50,233.01 144.25,230.79 145.00,232.28 145.75,232.81 146.50,232.70 147.25,234.82 148.00,235.06 148.75,234.40 149.50,236.13 150.25,235.86 151.00,236.24 151.75,236.75 152.50,237.27 153.25,236.45 154.00,238.65 154.75,237.04 155.50,236.55 156.25,235.13 157.00,235.43 157.75,233.57 158.50,232.44 159.25,232.19 160.00,233.67 160.75,233.07 161.50,232.56 162.25,230.06 163.00,229.83 163.75,230.04 164.50,229.57 165.25,227.99 166.00,225.83 166.75,225.54 167.50,227.39 168.25,228.18 169.00,227.86 169.75,227.27 170.50,228.12 171.25,228.57" fill="none" stroke="#0000ff" stroke-width="1.2" stroke-linejoin="round"/>
<polyline points="50.50,228.10 51.25,228.78 52.00,228.31 52.75,227.96 53.50,228.75 54.25,227.08 55.00,228.73 55.75,227.76 56.50,226.11 57.25,227.44 58.00,226.89 58.75,229.68 59.50,230.26 60.25,229.61 61.00,232.31 61.75,231.81 62.50,234.17 63.25,232.66 64.00,233.69 64.75,235.61 65.50,234.78 66.25,234.16 67.00,232.89 67.75,233.61 68.50,234.15 69.25,232.29 70.00,232.43 70.75,232.41 71.50,233.04 72.25,234.25 73.00,233.37 73.75,232.72 74.50,232.99 75.25,233.91 76.00,235.17 76.75,235.64 77.50,233.87 78.25,232.85 79.00,235.23 79.75,233.85 80.50,235.29 81.25,234.61 82.00,235.92 82.75,237.43 83.50,239.02 84.25,238.16 85.00,238.55 85.75,240.26 86.50,240.35 87.25,239.60 88.00,240.51 88.75,240.93 89.50,241.15 90.25,239.85 91.00,236.78 91.75,236.11 92.50,235.74 93.25,234.91 94.00,234.40 94.75,233.59 95.50,232.83 96.25,233.78 97.00,232.37 97.75,230.89 98.50,229.40 99.25,228.23 100.00,227.03 100.75,225.32 101.50,224.18 102.25,223.21 103.00,219.05 103.75,215.99 104.50,216.51 105.25,218.22 106.00,221.33 106.75,222.23 107.50,222.91 108.25,221.09 109.00,224.54 109.75,227.67 110.50,228.81 111.25,231.04 112.00,233.96 112.75,236.08 113.50,236.43 114.25,236.70 115.00,237.50 115.75,237.63 116.50,237.92 117.25,237.76 118.00,235.78 118.75,236.44 119.50,235.45 120.25,236.03 121.00,235.61 121.75,237.09 122.50,236.12 123.25,235.82 124.00,235.13 124.75,235.53 125.50,235.85 126.25,234.33 127.00,236.23 127.75,235.31 128.50,234.04 129.25,235.31 130.00,233.18 130.75,234.36 131.50,233.57 132.25,234.71 133.00,231.88 133.75,233.04 134.50,232.11 135.25,231.59 136.00,230.08 136.75,228.89 137.50,228.86 138.25,227.45 139.00,230.05 139.75,230.52 140.50,231.56 141.25,231.88 142.00,230.52 142.75,231.09 143.50,230.21 144.25,230.19 145.00,230.23 145.75,233.45 146.50,233.24 147.25,233.34 148.00,234.70 148.75,234.01 149.50,233.85 150.25,234.07 151.00,234.72 151.75,235.73 152.50,236.25 153.25,237.43 154.00,237.48 154.75,238.46 155.50,237.20 156.25,237.40 157.00,236.13 157.75,235.24 158.50,235.81 159.25,232.76 160.00,234.04 160.75,233.77 161.50,230.78 162.25,229.37 163.00,229.72 163.75,229.51 164.50,230.41 165.25,229.57 166.00,230.35 166.75,229.78 167.50,229.01 168.25,228.29 169.00,229.16 169.75,227.86 170.50,228.24 171.25,227.35" fill="none" stroke="#ff0000" stroke-width="1.2" stroke-linejoin="round"/>
<polyline points="54.50,269.93 55.25,271.03 56.00,268.95 56.75,271.34 57.50,271.93 58.25,270.06 59.00,271.98 59.75,272.79 60.50,271.25 61.25,273.18 62.00,272.00 62.75,271.97 63.50,272.63 64.25,273.00 65.00,273.35 65.75,272.11 66.50,272.42 67.25,271.53 68.00,271.74 68.75,272.52 69.50,271.56 70.25,272.20 71.00,273.94 71.75,272.68 72.50,273.20 73.25,272.30 74.00,274.26 74.75,273.07 75.50,273.08 76.25,274.91 77.00,274.68 77.75,275.08 78.50,275.49 79.25,275.41 80.00,275.30 80.75,274.92 81.50,275.13 82.25,275.74 83.00,276.41 83.75,277.20 84.50,279.52 85.25,278.54 86.00,278.36 86.75,279.08 87.50,279.25 88.25,281.75 89.00,283.24 89.75,283.48 90.50,283.43 91.25,281.29 92.00,279.62 92.75,278.16 93.50,277.78 94.25,275.68 95.00,276.79 95.75,277.93 96.50,280.07 97.25,282.29 98.00,282.35 98.75,280.31 99.50,280.81 100.25,281.11 101.00,280.37 101.75,278.43 102.50,277.56 103.25,278.29 104.00,278.70 104.75,277.81 105.50,277.20 106.25,273.75 107.00,271.36 107.75,266.66 108.50,264.98 109.25,262.44 110.00,257.88 110.75,254.96 111.50,252.92 112.25,255.64 113.00,256.86 113.75,256.36 114.50,259.40 115.25,260.65 116.00,264.16 116.75,264.91 117.50,265.98 118.25,267.80 119.00,269.73 119.75,271.21 120.50,272.96 121.25,273.19 122.00,274.59 122.75,274.77 123.50,278.23 124.25,278.36 125.00,278.37 125.75,278.60 126.50,280.56 127.25,279.93 128.00,279.45 128.75,279.82 129.50,278.69 130.25,278.08 131.00,277.50 131.75,274.93 132.50,274.58 133.25,273.68 134.00,272.57 134.75,270.45 135.50,269.60 136.25,266.24 137.00,267.15 137.75,269.91 138.50,271.82 139.25,273.36 140.00,273.42 140.75,272.74 141.50,273.75 142.25,274.10 143.00,276.00 143.75,275.68 144.50,277.56 145.25,277.85 146.00,277.90 146.75,278.99 147.50,280.55 148.25,279.17 149.00,277.93 149.75,279.97 150.50,278.87 151.25,280.35 152.00,279.54 152.75,279.10 153.50,280.27 154.25,278.43 155.00,280.13 155.75,278.00 156.50,278.24 157.25,278.24 158.00,277.27 158.75,274.86 159.50,275.41 160.25,273.64 161.00,271.80 161.75,270.84 162.50,269.09 163.25,270.69 164.00,270.77 164.75,271.31 165.50,272.60 166.25,271.83 167.00,270.50" fill="none" stroke="#0000ff" stroke-width="1.2" stroke-linejoin="round"/>
<polyline points="54.50,267.83 55.25,268.61 56.00,270.38 56.75,271.47 57.50,272.19 58.25,272.88 59.00,270.96 59.75,270.85 60.50,271.69 61.25,272.35 62.00,271.24 62.75,272.62 63.50,271.69 64.25,272.69 65.00,272.95 65.75,272.07 66.50,272.23 67.25,273.12 68.00,273.05 68.75,272.35 69.50,274.10 70.25,272.95 71.00,272.67 71.75,272.06 72.50,274.56 73.25,274.68 74.00,274.76 74.75,274.44 75.50,273.52 76.25,272.84 77.00,274.41 77.75,275.79 78.50,276.85 79.25,274.61 80.00,273.98 80.75,274.46 81.50,275.35 82.25,277.90 83.00,278.93 83.75,280.15 84.50,279.73 85.25,279.44 86.00,281.94 86.75,283.57 87.50,281.92 88.25,281.74 89.00,282.33 89.75,283.64 90.50,284.22 91.25,283.42 92.00,280.88 92.75,279.09 93.50,278.76 94.25,279.53 95.00,279.48 95.75,276.28 96.50,275.10 97.25,274.12 98.00,274.96 98.75,274.54 99.50,274.02 100.25,271.43 101.00,271.05 101.75,269.56 102.50,266.52 103.25,266.40 104.00,264.21 104.75,260.61 105.50,261.22 106.25,262.00 107.00,262.82 107.75,263.04 108.50,264.67 109.25,267.87 110.00,270.24 110.75,270.41 111.50,272.52 112.25,274.30 113.00,274.17 113.75,275.41 114.50,274.67 115.25,276.67 116.00,276.54 116.75,275.34 117.50,275.83 118.25,275.76 119.00,277.02 119.75,277.43 120.50,277.36 121.25,277.77 122.00,278.34 122.75,280.80 123.50,278.85 124.25,280.26 125.00,278.22 125.75,277.63 126.50,276.28 127.25,276.91 128.00,277.83 128.75,276.55 129.50,273.40 130.25,273.17 131.00,271.16 131.75,269.72 132.50,268.55 133.25,268.71 134.00,266.46 134.75,267.20 135.50,266.90 136.25,266.12 137.00,265.65 137.75,268.05 138.50,268.02 139.25,269.21 140.00,267.85 140.75,269.44 141.50,270.98 142.25,270.89 143.00,272.79 143.75,272.80 144.50,272.38 145.25,274.44 146.00,274.98 146.75,276.11 147.50,277.80 148.25,279.04 149.00,278.80 149.75,279.65 150.50,281.78 151.25,282.77 152.00,281.99 152.75,283.96 153.50,282.86 154.25,281.00 155.00,278.77 155.75,279.36 156.50,278.37 157.25,277.20 158.00,275.84 158.75,275.82 159.50,274.16 160.25,273.80 161.00,272.71 161.75,271.45 162.50,271.44 163.25,270.92 164.00,272.87 164.75,271.75 165.50,271.06 166.25,273.26 167.00,273.12" fill="none" stroke="#ff0000" stroke-width="1.2" stroke-linejoin="round"/>
<line x1="72.50" y1="259.00" x2="83.00" y2="259.00" stroke="#ff0000" stroke-width="1.4"/>
<polygon points="68.70,259.00 73.80,256.60 73.80,261.40" fill="#ff0000"/>
<line x1="69.00" y1="263.40" x2="79.50" y2="263.40" stroke="#0000ff" stroke-width="1.4"/>
<polygon points="83.30,263.40 78.20,261.00 78.20,265.80" fill="#0000ff"/>
<text x="64.20" y="300.80" font-size="10.5" text-anchor="middle" font-weight="normal" fill="#000">-250</text>
<text x="111.00" y="300.80" font-size="10.5" text-anchor="middle" font-weight="normal" fill="#000">0</text>
<text x="158.10" y="300.80" font-size="10.5" text-anchor="middle" font-weight="normal" fill="#000">250</text>
<text x="91.50" y="315.00" font-size="10.8" text-anchor="start" font-weight="normal" fill="#000">B</text>
<line x1="101.80" y1="313.30" x2="101.80" y2="317.60" stroke="#000" stroke-width="0.8"/>
<line x1="99.60" y1="317.60" x2="104.00" y2="317.60" stroke="#000" stroke-width="0.8"/>
<text x="107.20" y="315.00" font-size="11" text-anchor="start" font-weight="normal" fill="#000">(mT)</text>
<text transform="translate(19.9 173.0) rotate(-90)" font-size="10.5">ΔR<tspan font-size="7.5" dy="2.5">NL</tspan><tspan dy="-2.5"> (mΩ)</tspan></text>
<text x="2.50" y="11.20" font-size="11.5" text-anchor="start" font-weight="bold" fill="#000">a</text>
<defs><linearGradient id="og" x1="0" x2="1" y1="0" y2="0"><stop offset="0" stop-color="#ffc29c"/><stop offset="0.2" stop-color="#ffc9a8"/><stop offset="0.6" stop-color="#ffe3d2"/><stop offset="1" stop-color="#ffffff"/></linearGradient></defs>
<rect x="249.3" y="2.6" width="22.56" height="123.7" fill="url(#og)"/>
<path d="M260.20,16.50 C261.20,17.90 263.97,21.95 266.20,24.90 C268.43,27.85 271.13,31.10 273.60,34.20 C276.07,37.30 278.52,41.18 281.00,43.50 C283.48,45.82 285.83,46.93 288.50,48.10 C291.17,49.27 294.42,49.75 297.00,50.50 C299.58,51.25 300.47,51.95 304.00,52.60 C307.53,53.25 313.48,53.98 318.20,54.40 C322.92,54.82 325.03,54.98 332.30,55.10 C339.57,55.22 356.88,55.10 361.80,55.10 L361.80,69.50 C349.83,69.27 303.15,68.72 290.00,68.10 C276.85,67.48 285.17,66.95 282.90,65.80 C280.63,64.65 278.57,63.37 276.40,61.20 C274.23,59.03 272.07,56.37 269.90,52.80 C267.73,49.23 265.02,43.52 263.40,39.80 C261.78,36.08 260.73,32.05 260.20,30.50 Z" fill="rgba(200,200,200,0.55)"/>
<line x1="249.30" y1="26.90" x2="354.80" y2="61.50" stroke="#1a8a1a" stroke-width="1.3"/>
<circle cx="284.5" cy="38.4" r="1.6" fill="#1a8a1a"/>
<circle cx="354.8" cy="61.5" r="1.6" fill="#1a8a1a"/>
<polyline points="262.69,31.21 263.62,31.35 264.54,31.53 265.47,31.76 266.39,32.04 267.31,32.39 268.24,32.82 269.16,33.36 270.08,34.01 271.01,34.79 271.93,35.73 272.85,36.84 273.78,38.13 274.70,39.60 275.62,41.23 276.55,43.02 277.47,44.91 278.40,46.86 279.32,48.83 280.24,50.75 281.17,52.58 282.09,54.27 283.01,55.79 283.94,57.15 284.86,58.32 285.78,59.32 286.71,60.15 287.63,60.85 288.55,61.42 289.48,61.89 290.40,62.27 291.33,62.57 292.25,62.82 293.17,63.01 294.10,63.17 295.02,63.29 295.94,63.39 296.87,63.47 297.79,63.53 298.71,63.58 299.64,63.62 300.56,63.65 301.48,63.67 302.41,63.69 303.33,63.70 304.25,63.72 305.18,63.73 306.10,63.73 307.03,63.74 307.95,63.74 308.87,63.75 309.80,63.75 310.72,63.75 311.64,63.75 312.57,63.75 313.49,63.76 314.41,63.76 315.34,63.76 316.26,63.76 317.18,63.76 318.11,63.76 319.03,63.76 319.96,63.76 320.88,63.76 321.80,63.76 322.73,63.76 323.65,63.76 324.57,63.76 325.50,63.76 326.42,63.76 327.34,63.76 328.27,63.76 329.19,63.76 330.11,63.76 331.04,63.76 331.96,63.76 332.88,63.76 333.81,63.76 334.73,63.76 335.66,63.76 336.58,63.76 337.50,63.76 338.43,63.76 339.35,63.76 340.27,63.76 341.20,63.76 342.12,63.76 343.04,63.76 343.97,63.76 344.89,63.76 345.81,63.76 346.74,63.76 347.66,63.76 348.59,63.76 349.51,63.76 350.43,63.76 351.36,63.76 352.28,63.76 353.20,63.76 354.13,63.76 355.05,63.76" fill="none" stroke="#ff0000" stroke-width="1.2" stroke-linejoin="round"/>
<line x1="263.00" y1="27.60" x2="263.00" y2="39.70" stroke="#ff0000" stroke-width="1.1"/>
<line x1="261.40" y1="27.60" x2="264.60" y2="27.60" stroke="#ff0000" stroke-width="1.1"/>
<line x1="261.40" y1="39.70" x2="264.60" y2="39.70" stroke="#ff0000" stroke-width="1.1"/>
<circle cx="263.0" cy="33.2" r="1.7" fill="#ff0000"/>
<line x1="266.70" y1="22.50" x2="266.70" y2="33.40" stroke="#ff0000" stroke-width="1.1"/>
<line x1="265.10" y1="22.50" x2="268.30" y2="22.50" stroke="#ff0000" stroke-width="1.1"/>
<line x1="265.10" y1="33.40" x2="268.30" y2="33.40" stroke="#ff0000" stroke-width="1.1"/>
<circle cx="266.7" cy="27.0" r="1.7" fill="#ff0000"/>
<line x1="270.00" y1="26.20" x2="270.00" y2="32.70" stroke="#ff0000" stroke-width="1.1"/>
<line x1="268.40" y1="26.20" x2="271.60" y2="26.20" stroke="#ff0000" stroke-width="1.1"/>
<line x1="268.40" y1="32.70" x2="271.60" y2="32.70" stroke="#ff0000" stroke-width="1.1"/>
<circle cx="270.0" cy="29.4" r="1.7" fill="#ff0000"/>
<line x1="273.20" y1="44.00" x2="273.20" y2="48.80" stroke="#ff0000" stroke-width="1.1"/>
<line x1="271.60" y1="44.00" x2="274.80" y2="44.00" stroke="#ff0000" stroke-width="1.1"/>
<line x1="271.60" y1="48.80" x2="274.80" y2="48.80" stroke="#ff0000" stroke-width="1.1"/>
<circle cx="273.2" cy="45.9" r="1.7" fill="#ff0000"/>
<line x1="276.70" y1="40.40" x2="276.70" y2="44.80" stroke="#ff0000" stroke-width="1.1"/>
<line x1="275.10" y1="40.40" x2="278.30" y2="40.40" stroke="#ff0000" stroke-width="1.1"/>
<line x1="275.10" y1="44.80" x2="278.30" y2="44.80" stroke="#ff0000" stroke-width="1.1"/>
<circle cx="276.7" cy="42.6" r="1.7" fill="#ff0000"/>
<line x1="280.90" y1="42.10" x2="280.90" y2="49.20" stroke="#ff0000" stroke-width="1.1"/>
<line x1="279.30" y1="42.10" x2="282.50" y2="42.10" stroke="#ff0000" stroke-width="1.1"/>
<line x1="279.30" y1="49.20" x2="282.50" y2="49.20" stroke="#ff0000" stroke-width="1.1"/>
<circle cx="280.9" cy="45.3" r="1.7" fill="#ff0000"/>
<line x1="284.10" y1="61.10" x2="284.10" y2="67.30" stroke="#ff0000" stroke-width="1.1"/>
<line x1="282.50" y1="61.10" x2="285.70" y2="61.10" stroke="#ff0000" stroke-width="1.1"/>
<line x1="282.50" y1="67.30" x2="285.70" y2="67.30" stroke="#ff0000" stroke-width="1.1"/>
<circle cx="284.1" cy="63.9" r="1.7" fill="#ff0000"/>
<line x1="307.10" y1="61.50" x2="307.10" y2="66.30" stroke="#ff0000" stroke-width="1.1"/>
<line x1="305.50" y1="61.50" x2="308.70" y2="61.50" stroke="#ff0000" stroke-width="1.1"/>
<line x1="305.50" y1="66.30" x2="308.70" y2="66.30" stroke="#ff0000" stroke-width="1.1"/>
<circle cx="307.1" cy="63.9" r="1.7" fill="#ff0000"/>
<line x1="328.40" y1="54.50" x2="328.40" y2="61.50" stroke="#ff0000" stroke-width="1.1"/>
<line x1="326.80" y1="54.50" x2="330.00" y2="54.50" stroke="#ff0000" stroke-width="1.1"/>
<line x1="326.80" y1="61.50" x2="330.00" y2="61.50" stroke="#ff0000" stroke-width="1.1"/>
<circle cx="328.4" cy="58.2" r="1.7" fill="#ff0000"/>
<line x1="354.70" y1="61.00" x2="354.70" y2="69.00" stroke="#ff0000" stroke-width="1.1"/>
<line x1="353.10" y1="61.00" x2="356.30" y2="61.00" stroke="#ff0000" stroke-width="1.1"/>
<line x1="353.10" y1="69.00" x2="356.30" y2="69.00" stroke="#ff0000" stroke-width="1.1"/>
<circle cx="354.7" cy="64.8" r="1.7" fill="#ff0000"/>
<rect x="249.3" y="2.6" width="123.30000000000001" height="123.7" fill="none" stroke="#000" stroke-width="1.2"/>
<line x1="249.30" y1="126.30" x2="249.30" y2="123.80" stroke="#000" stroke-width="1"/>
<line x1="249.30" y1="2.60" x2="249.30" y2="5.10" stroke="#000" stroke-width="1"/>
<line x1="266.93" y1="126.30" x2="266.93" y2="124.80" stroke="#000" stroke-width="1"/>
<line x1="266.93" y1="2.60" x2="266.93" y2="4.10" stroke="#000" stroke-width="1"/>
<line x1="284.55" y1="126.30" x2="284.55" y2="123.80" stroke="#000" stroke-width="1"/>
<line x1="284.55" y1="2.60" x2="284.55" y2="5.10" stroke="#000" stroke-width="1"/>
<line x1="302.18" y1="126.30" x2="302.18" y2="124.80" stroke="#000" stroke-width="1"/>
<line x1="302.18" y1="2.60" x2="302.18" y2="4.10" stroke="#000" stroke-width="1"/>
<line x1="319.80" y1="126.30" x2="319.80" y2="123.80" stroke="#000" stroke-width="1"/>
<line x1="319.80" y1="2.60" x2="319.80" y2="5.10" stroke="#000" stroke-width="1"/>
<line x1="337.43" y1="126.30" x2="337.43" y2="124.80" stroke="#000" stroke-width="1"/>
<line x1="337.43" y1="2.60" x2="337.43" y2="4.10" stroke="#000" stroke-width="1"/>
<line x1="355.05" y1="126.30" x2="355.05" y2="123.80" stroke="#000" stroke-width="1"/>
<line x1="355.05" y1="2.60" x2="355.05" y2="5.10" stroke="#000" stroke-width="1"/>
<line x1="372.68" y1="126.30" x2="372.68" y2="124.80" stroke="#000" stroke-width="1"/>
<line x1="372.68" y1="2.60" x2="372.68" y2="4.10" stroke="#000" stroke-width="1"/>
<line x1="249.30" y1="27.50" x2="251.80" y2="27.50" stroke="#000" stroke-width="1"/>
<line x1="372.60" y1="27.50" x2="370.10" y2="27.50" stroke="#000" stroke-width="1"/>
<line x1="249.30" y1="76.90" x2="250.80" y2="76.90" stroke="#000" stroke-width="1"/>
<line x1="372.60" y1="76.90" x2="371.10" y2="76.90" stroke="#000" stroke-width="1"/>
<text x="247.10" y="31.30" font-size="10.5" text-anchor="end" font-weight="normal" fill="#000">1</text>
<text x="246.80" y="130.00" font-size="10.5" text-anchor="end" font-weight="normal" fill="#000">0</text>
<text x="249.30" y="138.20" font-size="10.5" text-anchor="middle" font-weight="normal" fill="#000">0</text>
<text x="284.55" y="138.20" font-size="10.5" text-anchor="middle" font-weight="normal" fill="#000">100</text>
<text x="319.80" y="138.20" font-size="10.5" text-anchor="middle" font-weight="normal" fill="#000">200</text>
<text x="355.05" y="138.20" font-size="10.5" text-anchor="middle" font-weight="normal" fill="#000">300</text>
<text x="311.00" y="151.90" font-size="11" text-anchor="middle" font-weight="normal" fill="#000">T (K)</text>
<text x="357.80" y="90.40" font-size="10" text-anchor="end" font-weight="normal" fill="#ff0000">Gr/CGT</text>
<text x="361.20" y="102.90" font-size="10" text-anchor="end" font-weight="normal" fill="#1a8a1a">Gr only [ref. 34]</text>
<text transform="translate(232.8 118.3) rotate(-90)" font-size="12.3">ΔR<tspan font-size="9" dy="3">NL</tspan><tspan dy="-3">/ΔR</tspan><tspan font-size="9" dy="3">NL,max</tspan><tspan dy="-3"> (mΩ)</tspan></text>
<text x="199.00" y="10.90" font-size="11" text-anchor="start" font-weight="bold" fill="#000">b</text>
<rect x="249.5" y="164.8" width="23.97" height="123.09999999999997" fill="url(#og)"/>
<path d="M257.20,174.70 C258.53,174.70 262.85,171.32 265.20,174.70 C267.55,178.08 269.65,189.03 271.30,195.00 C272.95,200.97 273.82,205.67 275.10,210.50 C276.38,215.33 277.27,219.08 279.00,224.00 C280.73,228.92 283.25,235.17 285.50,240.00 C287.75,244.83 290.00,249.17 292.50,253.00 C295.00,256.83 297.75,260.25 300.50,263.00 C303.25,265.75 306.58,267.88 309.00,269.50 C311.42,271.12 312.55,271.53 315.00,272.70 C317.45,273.87 320.20,275.57 323.70,276.50 C327.20,277.43 330.17,277.77 336.00,278.30 C341.83,278.83 354.92,279.47 358.70,279.70 L358.70,287.20 C351.42,287.12 323.73,287.05 315.00,286.70 C306.27,286.35 309.57,286.15 306.30,285.10 C303.03,284.05 298.77,282.22 295.40,280.40 C292.03,278.58 289.20,277.05 286.10,274.20 C283.00,271.35 279.65,267.17 276.80,263.30 C273.95,259.43 271.47,254.38 269.00,251.00 C266.53,247.62 263.68,245.87 262.00,243.00 C260.32,240.13 259.70,237.13 258.90,233.80 C258.10,230.47 257.48,224.80 257.20,223.00 Z" fill="rgba(200,200,200,0.55)"/>
<line x1="259.60" y1="202.30" x2="259.60" y2="228.70" stroke="#ff0000" stroke-width="1.1"/>
<line x1="258.00" y1="202.30" x2="261.20" y2="202.30" stroke="#ff0000" stroke-width="1.1"/>
<line x1="258.00" y1="228.70" x2="261.20" y2="228.70" stroke="#ff0000" stroke-width="1.1"/>
<circle cx="259.6" cy="215.3" r="1.7" fill="#ff0000"/>
<line x1="263.30" y1="180.00" x2="263.30" y2="221.90" stroke="#ff0000" stroke-width="1.1"/>
<line x1="261.70" y1="180.00" x2="264.90" y2="180.00" stroke="#ff0000" stroke-width="1.1"/>
<line x1="261.70" y1="221.90" x2="264.90" y2="221.90" stroke="#ff0000" stroke-width="1.1"/>
<circle cx="263.3" cy="200.4" r="1.7" fill="#ff0000"/>
<line x1="266.50" y1="185.30" x2="266.50" y2="221.00" stroke="#ff0000" stroke-width="1.1"/>
<line x1="264.90" y1="185.30" x2="268.10" y2="185.30" stroke="#ff0000" stroke-width="1.1"/>
<line x1="264.90" y1="221.00" x2="268.10" y2="221.00" stroke="#ff0000" stroke-width="1.1"/>
<circle cx="266.5" cy="203.2" r="1.7" fill="#ff0000"/>
<line x1="270.20" y1="218.80" x2="270.20" y2="252.00" stroke="#ff0000" stroke-width="1.1"/>
<line x1="268.60" y1="218.80" x2="271.80" y2="218.80" stroke="#ff0000" stroke-width="1.1"/>
<line x1="268.60" y1="252.00" x2="271.80" y2="252.00" stroke="#ff0000" stroke-width="1.1"/>
<circle cx="270.2" cy="235.4" r="1.7" fill="#ff0000"/>
<line x1="273.60" y1="222.50" x2="273.60" y2="254.00" stroke="#ff0000" stroke-width="1.1"/>
<line x1="272.00" y1="222.50" x2="275.20" y2="222.50" stroke="#ff0000" stroke-width="1.1"/>
<line x1="272.00" y1="254.00" x2="275.20" y2="254.00" stroke="#ff0000" stroke-width="1.1"/>
<circle cx="273.6" cy="238.5" r="1.7" fill="#ff0000"/>
<line x1="277.10" y1="230.30" x2="277.10" y2="258.50" stroke="#ff0000" stroke-width="1.1"/>
<line x1="275.50" y1="230.30" x2="278.70" y2="230.30" stroke="#ff0000" stroke-width="1.1"/>
<line x1="275.50" y1="258.50" x2="278.70" y2="258.50" stroke="#ff0000" stroke-width="1.1"/>
<circle cx="277.1" cy="244.7" r="1.7" fill="#ff0000"/>
<line x1="281.00" y1="240.80" x2="281.00" y2="263.20" stroke="#ff0000" stroke-width="1.1"/>
<line x1="279.40" y1="240.80" x2="282.60" y2="240.80" stroke="#ff0000" stroke-width="1.1"/>
<line x1="279.40" y1="263.20" x2="282.60" y2="263.20" stroke="#ff0000" stroke-width="1.1"/>
<circle cx="281" cy="252" r="1.7" fill="#ff0000"/>
<line x1="284.60" y1="227.60" x2="284.60" y2="268.30" stroke="#ff0000" stroke-width="1.1"/>
<line x1="283.00" y1="227.60" x2="286.20" y2="227.60" stroke="#ff0000" stroke-width="1.1"/>
<line x1="283.00" y1="268.30" x2="286.20" y2="268.30" stroke="#ff0000" stroke-width="1.1"/>
<circle cx="284.6" cy="248.3" r="1.7" fill="#ff0000"/>
<line x1="307.20" y1="282.00" x2="307.20" y2="288.00" stroke="#ff0000" stroke-width="1.1"/>
<line x1="305.60" y1="282.00" x2="308.80" y2="282.00" stroke="#ff0000" stroke-width="1.1"/>
<line x1="305.60" y1="288.00" x2="308.80" y2="288.00" stroke="#ff0000" stroke-width="1.1"/>
<circle cx="307.2" cy="285.2" r="1.7" fill="#ff0000"/>
<line x1="328.60" y1="275.50" x2="328.60" y2="284.50" stroke="#ff0000" stroke-width="1.1"/>
<line x1="327.00" y1="275.50" x2="330.20" y2="275.50" stroke="#ff0000" stroke-width="1.1"/>
<line x1="327.00" y1="284.50" x2="330.20" y2="284.50" stroke="#ff0000" stroke-width="1.1"/>
<circle cx="328.6" cy="280" r="1.7" fill="#ff0000"/>
<line x1="354.70" y1="281.30" x2="354.70" y2="288.00" stroke="#ff0000" stroke-width="1.1"/>
<line x1="353.10" y1="281.30" x2="356.30" y2="281.30" stroke="#ff0000" stroke-width="1.1"/>
<line x1="353.10" y1="288.00" x2="356.30" y2="288.00" stroke="#ff0000" stroke-width="1.1"/>
<circle cx="354.7" cy="284.8" r="1.7" fill="#ff0000"/>
<rect x="249.5" y="164.8" width="122.80000000000001" height="123.09999999999997" fill="none" stroke="#000" stroke-width="1.2"/>
<line x1="249.50" y1="287.90" x2="249.50" y2="285.40" stroke="#000" stroke-width="1"/>
<line x1="249.50" y1="164.80" x2="249.50" y2="167.30" stroke="#000" stroke-width="1"/>
<line x1="267.12" y1="287.90" x2="267.12" y2="286.40" stroke="#000" stroke-width="1"/>
<line x1="267.12" y1="164.80" x2="267.12" y2="166.30" stroke="#000" stroke-width="1"/>
<line x1="284.75" y1="287.90" x2="284.75" y2="285.40" stroke="#000" stroke-width="1"/>
<line x1="284.75" y1="164.80" x2="284.75" y2="167.30" stroke="#000" stroke-width="1"/>
<line x1="302.38" y1="287.90" x2="302.38" y2="286.40" stroke="#000" stroke-width="1"/>
<line x1="302.38" y1="164.80" x2="302.38" y2="166.30" stroke="#000" stroke-width="1"/>
<line x1="320.00" y1="287.90" x2="320.00" y2="285.40" stroke="#000" stroke-width="1"/>
<line x1="320.00" y1="164.80" x2="320.00" y2="167.30" stroke="#000" stroke-width="1"/>
<line x1="337.62" y1="287.90" x2="337.62" y2="286.40" stroke="#000" stroke-width="1"/>
<line x1="337.62" y1="164.80" x2="337.62" y2="166.30" stroke="#000" stroke-width="1"/>
<line x1="355.25" y1="287.90" x2="355.25" y2="285.40" stroke="#000" stroke-width="1"/>
<line x1="355.25" y1="164.80" x2="355.25" y2="167.30" stroke="#000" stroke-width="1"/>
<line x1="372.88" y1="287.90" x2="372.88" y2="286.40" stroke="#000" stroke-width="1"/>
<line x1="372.88" y1="164.80" x2="372.88" y2="166.30" stroke="#000" stroke-width="1"/>
<line x1="249.50" y1="287.90" x2="252.00" y2="287.90" stroke="#000" stroke-width="1"/>
<line x1="372.30" y1="287.90" x2="369.80" y2="287.90" stroke="#000" stroke-width="1"/>
<line x1="249.50" y1="266.60" x2="251.00" y2="266.60" stroke="#000" stroke-width="1"/>
<line x1="372.30" y1="266.60" x2="370.80" y2="266.60" stroke="#000" stroke-width="1"/>
<line x1="249.50" y1="245.30" x2="252.00" y2="245.30" stroke="#000" stroke-width="1"/>
<line x1="372.30" y1="245.30" x2="369.80" y2="245.30" stroke="#000" stroke-width="1"/>
<line x1="249.50" y1="224.00" x2="251.00" y2="224.00" stroke="#000" stroke-width="1"/>
<line x1="372.30" y1="224.00" x2="370.80" y2="224.00" stroke="#000" stroke-width="1"/>
<line x1="249.50" y1="202.70" x2="252.00" y2="202.70" stroke="#000" stroke-width="1"/>
<line x1="372.30" y1="202.70" x2="369.80" y2="202.70" stroke="#000" stroke-width="1"/>
<line x1="249.50" y1="181.40" x2="251.00" y2="181.40" stroke="#000" stroke-width="1"/>
<line x1="372.30" y1="181.40" x2="370.80" y2="181.40" stroke="#000" stroke-width="1"/>
<text x="246.60" y="206.50" font-size="10.5" text-anchor="end" font-weight="normal" fill="#000">30</text>
<text x="246.60" y="249.10" font-size="10.5" text-anchor="end" font-weight="normal" fill="#000">15</text>
<text x="246.80" y="291.60" font-size="10.5" text-anchor="end" font-weight="normal" fill="#000">0</text>
<text x="249.50" y="300.70" font-size="10.5" text-anchor="middle" font-weight="normal" fill="#000">0</text>
<text x="284.75" y="300.70" font-size="10.5" text-anchor="middle" font-weight="normal" fill="#000">100</text>
<text x="320.00" y="300.70" font-size="10.5" text-anchor="middle" font-weight="normal" fill="#000">200</text>
<text x="355.25" y="300.70" font-size="10.5" text-anchor="middle" font-weight="normal" fill="#000">300</text>
<text x="310.70" y="313.10" font-size="11" text-anchor="middle" font-weight="normal" fill="#000">T (K)</text>
<text transform="translate(227.0 271.6) rotate(-90)" font-size="11">|B<tspan font-size="7.5" dy="2.5">0,up</tspan><tspan dy="-2.5">-B</tspan><tspan font-size="7.5" dy="2.5">0,down</tspan><tspan dy="-2.5">| (mT)</tspan></text>
<text x="199.30" y="170.90" font-size="11" text-anchor="start" font-weight="bold" fill="#000">c</text>
<rect x="440.0" y="2.5" width="124.60000000000002" height="123.5" fill="none" stroke="#222" stroke-width="1.1"/>
<line x1="459.81" y1="126.00" x2="459.81" y2="123.50" stroke="#000" stroke-width="1"/>
<line x1="459.81" y1="2.50" x2="459.81" y2="5.00" stroke="#000" stroke-width="1"/>
<line x1="480.90" y1="126.00" x2="480.90" y2="124.50" stroke="#000" stroke-width="1"/>
<line x1="480.90" y1="2.50" x2="480.90" y2="4.00" stroke="#000" stroke-width="1"/>
<line x1="502.00" y1="126.00" x2="502.00" y2="123.50" stroke="#000" stroke-width="1"/>
<line x1="502.00" y1="2.50" x2="502.00" y2="5.00" stroke="#000" stroke-width="1"/>
<line x1="523.10" y1="126.00" x2="523.10" y2="124.50" stroke="#000" stroke-width="1"/>
<line x1="523.10" y1="2.50" x2="523.10" y2="4.00" stroke="#000" stroke-width="1"/>
<line x1="544.20" y1="126.00" x2="544.20" y2="123.50" stroke="#000" stroke-width="1"/>
<line x1="544.20" y1="2.50" x2="544.20" y2="5.00" stroke="#000" stroke-width="1"/>
<line x1="440.00" y1="30.50" x2="442.50" y2="30.50" stroke="#000" stroke-width="1"/>
<line x1="564.60" y1="30.50" x2="562.10" y2="30.50" stroke="#000" stroke-width="1"/>
<line x1="440.00" y1="64.00" x2="442.50" y2="64.00" stroke="#000" stroke-width="1"/>
<line x1="564.60" y1="64.00" x2="562.10" y2="64.00" stroke="#000" stroke-width="1"/>
<line x1="440.00" y1="97.50" x2="442.50" y2="97.50" stroke="#000" stroke-width="1"/>
<line x1="564.60" y1="97.50" x2="562.10" y2="97.50" stroke="#000" stroke-width="1"/>
<text x="437.20" y="34.20" font-size="10.5" text-anchor="end" font-weight="normal" fill="#000">1</text>
<text x="437.20" y="67.70" font-size="10.5" text-anchor="end" font-weight="normal" fill="#000">0</text>
<text x="437.20" y="101.20" font-size="10.5" text-anchor="end" font-weight="normal" fill="#000">-1</text>
<text x="459.50" y="137.30" font-size="10.5" text-anchor="middle" font-weight="normal" fill="#000">-150</text>
<text x="502.00" y="137.30" font-size="10.5" text-anchor="middle" font-weight="normal" fill="#000">0</text>
<text x="544.50" y="137.30" font-size="10.5" text-anchor="middle" font-weight="normal" fill="#000">150</text>
<text x="502.00" y="149.80" font-size="11" text-anchor="middle" font-weight="normal" fill="#000">B (mT)</text>
<text transform="translate(429.6 64.2) rotate(-90)" font-size="11.2" text-anchor="middle">R (mΩ)</text>
<text x="391.60" y="10.90" font-size="11" text-anchor="start" font-weight="bold" fill="#000">d</text>
<polyline points="458.50,61.36 459.80,60.28 461.10,58.57 462.40,61.55 463.70,65.43 465.00,63.34 466.30,65.04 467.60,62.82 468.90,65.26 470.20,65.19 471.50,63.77 472.80,64.65 474.10,63.76 475.40,69.17 476.70,66.82 478.00,67.05 479.30,68.94 480.60,68.54 481.90,66.05 483.20,70.25 484.50,68.19 485.80,71.10 487.10,66.65 488.40,66.57 489.70,62.80 491.00,65.97 492.30,64.12 493.60,64.76 494.90,61.19 496.20,64.27 497.50,62.51 498.80,63.94 500.10,59.93 501.40,66.60 502.70,68.79 504.00,66.37 505.30,62.85 506.60,62.47 507.90,58.68 509.20,56.98 510.50,60.77 511.80,58.41 513.10,59.36 514.40,54.37 515.70,55.68 517.00,59.13 518.30,55.16 519.60,58.39 520.90,58.46 522.20,57.49 523.50,61.47 524.80,61.31 526.10,60.05 527.40,62.99 528.70,64.93 530.00,59.34 531.30,65.67 532.60,60.89 533.90,62.17 535.20,60.83 536.50,59.94 537.80,63.59 539.10,60.73 540.40,64.23 541.70,66.84 543.00,66.33 544.30,62.30" fill="none" stroke="#6cb520" stroke-width="1.0" stroke-linejoin="round"/>
<polyline points="457.40,55.61 458.70,60.46 460.00,60.51 461.30,62.02 462.60,61.81 463.90,66.04 465.20,64.23 466.50,68.46 467.80,62.87 469.10,67.11 470.40,60.58 471.70,62.32 473.00,62.41 474.30,64.67 475.60,63.75 476.90,59.92 478.20,61.92 479.50,63.25 480.80,59.37 482.10,66.04 483.40,68.30 484.70,71.61 486.00,68.52 487.30,74.01 488.60,74.07 489.90,79.43 491.20,79.98 492.50,75.82 493.80,83.06 495.10,83.21 496.40,77.38 497.70,78.48 499.00,69.42 500.30,70.84 501.60,64.64 502.90,56.89 504.20,58.38 505.50,51.49 506.80,48.11 508.10,47.02 509.40,46.39 510.70,50.17 512.00,50.35 513.30,55.95 514.60,53.93 515.90,53.75 517.20,54.76 518.50,60.55 519.80,57.36 521.10,64.01 522.40,63.48 523.70,63.12 525.00,63.89 526.30,61.90 527.60,66.14 528.90,62.11 530.20,60.98 531.50,63.93 532.80,65.88 534.10,66.62 535.40,62.94 536.70,62.32 538.00,64.17 539.30,62.08 540.60,65.76 541.90,63.51 543.20,64.37 544.50,69.60 545.80,72.84 547.10,72.82" fill="none" stroke="#ff6a1a" stroke-width="1.0" stroke-linejoin="round"/>
<polyline points="460.70,60.56 462.00,58.55 463.30,59.53 464.60,59.88 465.90,58.82 467.20,58.63 468.50,61.93 469.80,63.49 471.10,66.18 472.40,64.06 473.70,69.20 475.00,65.70 476.30,71.73 477.60,69.78 478.90,70.47 480.20,67.93 481.50,71.81 482.80,67.86 484.10,65.10 485.40,68.06 486.70,71.28 488.00,69.96 489.30,75.86 490.60,75.03 491.90,81.44 493.20,85.88 494.50,86.40 495.80,91.36 497.10,93.16 498.40,86.81 499.70,86.58 501.00,77.93 502.30,73.76 503.60,64.69 504.90,51.66 506.20,42.82 507.50,41.07 508.80,45.67 510.10,43.04 511.40,49.03 512.70,52.65 514.00,59.55 515.30,63.23 516.60,60.74 517.90,62.53 519.20,59.18 520.50,58.91 521.80,59.52 523.10,63.18 524.40,60.14 525.70,60.42 527.00,58.07 528.30,55.77 529.60,57.25 530.90,62.07 532.20,60.81 533.50,62.89 534.80,62.81 536.10,60.43 537.40,64.88 538.70,58.23 540.00,64.15 541.30,59.73 542.60,67.62 543.90,65.42" fill="none" stroke="#b07ae8" stroke-width="1.0" stroke-linejoin="round"/>
<polyline points="455.70,60.82 457.00,68.31 458.30,64.16 459.60,70.72 460.90,71.54 462.20,68.16 463.50,71.21 464.80,71.71 466.10,73.09 467.40,76.20 468.70,72.76 470.00,65.18 471.30,63.43 472.60,60.70 473.90,57.13 475.20,55.20 476.50,58.31 477.80,60.28 479.10,64.49 480.40,68.25 481.70,71.96 483.00,74.00 484.30,83.19 485.60,82.41 486.90,86.99 488.20,89.60 489.50,96.26 490.80,101.20 492.10,104.10 493.40,103.81 494.70,101.42 496.00,99.55 497.30,95.28 498.60,93.23 499.90,84.23 501.20,73.26 502.50,65.67 503.80,55.24 505.10,45.54 506.40,36.34 507.70,35.38 509.00,33.22 510.30,28.77 511.60,34.59 512.90,32.28 514.20,35.24 515.50,39.93 516.80,42.41 518.10,46.13 519.40,52.64 520.70,59.02 522.00,62.97 523.30,68.19 524.60,70.86 525.90,73.13 527.20,73.93 528.50,74.84 529.80,77.34 531.10,68.66 532.40,72.24 533.70,67.28 535.00,60.22 536.30,55.42 537.60,57.25 538.90,56.34 540.20,62.26 541.50,62.51 542.80,63.97 544.10,66.03" fill="none" stroke="#1a64dc" stroke-width="1.0" stroke-linejoin="round"/>
<polyline points="462.00,59.51 463.30,62.61 464.60,66.61 465.90,64.99 467.20,64.61 468.50,68.68 469.80,66.24 471.10,65.73 472.40,60.93 473.70,62.10 475.00,54.91 476.30,55.73 477.60,62.91 478.90,60.00 480.20,64.88 481.50,66.32 482.80,71.02 484.10,76.90 485.40,84.18 486.70,88.77 488.00,89.06 489.30,96.75 490.60,99.27 491.90,101.43 493.20,104.12 494.50,105.11 495.80,106.30 497.10,107.25 498.40,96.72 499.70,82.73 501.00,76.51 502.30,61.17 503.60,47.58 504.90,38.37 506.20,27.03 507.50,26.33 508.80,22.57 510.10,17.01 511.40,19.45 512.70,24.48 514.00,25.08 515.30,32.90 516.60,36.80 517.90,44.61 519.20,47.49 520.50,50.82 521.80,51.45 523.10,54.30 524.40,63.63 525.70,62.96 527.00,66.83 528.30,69.85 529.60,74.38 530.90,70.50 532.20,67.34 533.50,64.97 534.80,66.66 536.10,63.07 537.40,62.05 538.70,64.51 540.00,64.36 541.30,64.33 542.60,69.02 543.90,65.20" fill="none" stroke="#555555" stroke-width="1.0" stroke-linejoin="round"/>
<line x1="504.20" y1="90.60" x2="507.80" y2="90.60" stroke="#555" stroke-width="1.1"/>
<text x="510.20" y="93.50" font-size="8.3" text-anchor="start" font-weight="normal" fill="#000">50 K</text>
<line x1="532.30" y1="90.60" x2="535.90" y2="90.60" stroke="#1a64dc" stroke-width="1.1"/>
<text x="538.30" y="93.50" font-size="8.3" text-anchor="start" font-weight="normal" fill="#000">60 K</text>
<line x1="504.20" y1="100.60" x2="507.80" y2="100.60" stroke="#b07ae8" stroke-width="1.1"/>
<text x="510.20" y="103.50" font-size="8.3" text-anchor="start" font-weight="normal" fill="#000">80 K</text>
<line x1="532.30" y1="100.60" x2="535.90" y2="100.60" stroke="#ff6a1a" stroke-width="1.1"/>
<text x="538.30" y="103.50" font-size="8.3" text-anchor="start" font-weight="normal" fill="#000">165 K</text>
<line x1="504.20" y1="110.70" x2="507.80" y2="110.70" stroke="#6cb520" stroke-width="1.1"/>
<text x="510.20" y="113.60" font-size="8.3" text-anchor="start" font-weight="normal" fill="#000">300 K</text>
<rect x="440.7" y="164.7" width="26.53" height="123.10000000000002" fill="url(#og)"/>
<path d="M455.10,164.70 C455.83,164.70 458.20,161.88 459.50,164.70 C460.80,167.52 461.72,175.68 462.90,181.60 C464.08,187.52 465.62,194.63 466.60,200.20 C467.58,205.77 467.82,210.05 468.80,215.00 C469.78,219.95 470.95,224.93 472.50,229.90 C474.05,234.87 475.62,240.45 478.10,244.80 C480.58,249.15 483.72,252.72 487.40,256.00 C491.08,259.28 495.93,262.02 500.20,264.50 C504.47,266.98 508.68,269.08 513.00,270.90 C517.32,272.72 521.75,274.22 526.10,275.40 C530.45,276.58 534.12,277.10 539.10,278.00 C544.08,278.90 553.18,280.33 556.00,280.80 L556.00,286.60 C553.18,286.48 544.08,286.23 539.10,285.90 C534.12,285.57 530.45,285.37 526.10,284.60 C521.75,283.83 516.97,282.82 513.00,281.30 C509.03,279.78 505.32,277.08 502.30,275.50 C499.28,273.92 498.32,273.50 494.90,271.80 C491.48,270.10 485.53,267.62 481.80,265.30 C478.07,262.98 475.13,261.00 472.50,257.90 C469.87,254.80 467.72,250.75 466.00,246.70 C464.28,242.65 463.28,238.88 462.20,233.60 C461.12,228.32 460.47,222.12 459.50,215.00 C458.53,207.88 457.13,198.40 456.40,190.90 C455.67,183.40 455.32,173.48 455.10,170.00 Z" fill="rgba(200,200,200,0.55)"/>
<line x1="458.70" y1="177.40" x2="458.70" y2="199.10" stroke="#ff0000" stroke-width="1.1"/>
<line x1="457.10" y1="177.40" x2="460.30" y2="177.40" stroke="#ff0000" stroke-width="1.1"/>
<line x1="457.10" y1="199.10" x2="460.30" y2="199.10" stroke="#ff0000" stroke-width="1.1"/>
<circle cx="458.7" cy="188.3" r="1.9" fill="#ff0000"/>
<line x1="462.90" y1="169.60" x2="462.90" y2="219.00" stroke="#ff0000" stroke-width="1.1"/>
<line x1="461.30" y1="169.60" x2="464.50" y2="169.60" stroke="#ff0000" stroke-width="1.1"/>
<line x1="461.30" y1="219.00" x2="464.50" y2="219.00" stroke="#ff0000" stroke-width="1.1"/>
<circle cx="462.9" cy="194.2" r="1.9" fill="#ff0000"/>
<line x1="470.50" y1="229.80" x2="470.50" y2="254.00" stroke="#ff0000" stroke-width="1.1"/>
<line x1="468.90" y1="229.80" x2="472.10" y2="229.80" stroke="#ff0000" stroke-width="1.1"/>
<line x1="468.90" y1="254.00" x2="472.10" y2="254.00" stroke="#ff0000" stroke-width="1.1"/>
<circle cx="470.5" cy="241.9" r="1.9" fill="#ff0000"/>
<line x1="502.80" y1="273.50" x2="502.80" y2="280.00" stroke="#ff0000" stroke-width="1.1"/>
<line x1="501.20" y1="273.50" x2="504.40" y2="273.50" stroke="#ff0000" stroke-width="1.1"/>
<line x1="501.20" y1="280.00" x2="504.40" y2="280.00" stroke="#ff0000" stroke-width="1.1"/>
<circle cx="502.8" cy="276.7" r="1.9" fill="#ff0000"/>
<line x1="554.30" y1="280.00" x2="554.30" y2="288.00" stroke="#ff0000" stroke-width="1.1"/>
<line x1="552.70" y1="280.00" x2="555.90" y2="280.00" stroke="#ff0000" stroke-width="1.1"/>
<line x1="552.70" y1="288.00" x2="555.90" y2="288.00" stroke="#ff0000" stroke-width="1.1"/>
<circle cx="554.3" cy="287" r="1.9" fill="#ff0000"/>
<rect x="440.7" y="164.7" width="122.59999999999997" height="123.10000000000002" fill="none" stroke="#000" stroke-width="1.2"/>
<line x1="440.70" y1="287.80" x2="440.70" y2="285.30" stroke="#000" stroke-width="1"/>
<line x1="440.70" y1="164.70" x2="440.70" y2="167.20" stroke="#000" stroke-width="1"/>
<line x1="459.65" y1="287.80" x2="459.65" y2="286.30" stroke="#000" stroke-width="1"/>
<line x1="459.65" y1="164.70" x2="459.65" y2="166.20" stroke="#000" stroke-width="1"/>
<line x1="478.60" y1="287.80" x2="478.60" y2="285.30" stroke="#000" stroke-width="1"/>
<line x1="478.60" y1="164.70" x2="478.60" y2="167.20" stroke="#000" stroke-width="1"/>
<line x1="497.55" y1="287.80" x2="497.55" y2="286.30" stroke="#000" stroke-width="1"/>
<line x1="497.55" y1="164.70" x2="497.55" y2="166.20" stroke="#000" stroke-width="1"/>
<line x1="516.50" y1="287.80" x2="516.50" y2="285.30" stroke="#000" stroke-width="1"/>
<line x1="516.50" y1="164.70" x2="516.50" y2="167.20" stroke="#000" stroke-width="1"/>
<line x1="535.45" y1="287.80" x2="535.45" y2="286.30" stroke="#000" stroke-width="1"/>
<line x1="535.45" y1="164.70" x2="535.45" y2="166.20" stroke="#000" stroke-width="1"/>
<line x1="554.40" y1="287.80" x2="554.40" y2="285.30" stroke="#000" stroke-width="1"/>
<line x1="554.40" y1="164.70" x2="554.40" y2="167.20" stroke="#000" stroke-width="1"/>
<line x1="440.70" y1="287.80" x2="443.20" y2="287.80" stroke="#000" stroke-width="1"/>
<line x1="563.30" y1="287.80" x2="560.80" y2="287.80" stroke="#000" stroke-width="1"/>
<line x1="440.70" y1="264.55" x2="442.20" y2="264.55" stroke="#000" stroke-width="1"/>
<line x1="563.30" y1="264.55" x2="561.80" y2="264.55" stroke="#000" stroke-width="1"/>
<line x1="440.70" y1="241.30" x2="443.20" y2="241.30" stroke="#000" stroke-width="1"/>
<line x1="563.30" y1="241.30" x2="560.80" y2="241.30" stroke="#000" stroke-width="1"/>
<line x1="440.70" y1="218.05" x2="442.20" y2="218.05" stroke="#000" stroke-width="1"/>
<line x1="563.30" y1="218.05" x2="561.80" y2="218.05" stroke="#000" stroke-width="1"/>
<line x1="440.70" y1="194.80" x2="443.20" y2="194.80" stroke="#000" stroke-width="1"/>
<line x1="563.30" y1="194.80" x2="560.80" y2="194.80" stroke="#000" stroke-width="1"/>
<line x1="440.70" y1="171.55" x2="442.20" y2="171.55" stroke="#000" stroke-width="1"/>
<line x1="563.30" y1="171.55" x2="561.80" y2="171.55" stroke="#000" stroke-width="1"/>
<text x="437.80" y="198.60" font-size="10.5" text-anchor="end" font-weight="normal" fill="#000">2</text>
<text x="437.80" y="245.10" font-size="10.5" text-anchor="end" font-weight="normal" fill="#000">1</text>
<text x="438.00" y="291.50" font-size="10.5" text-anchor="end" font-weight="normal" fill="#000">0</text>
<text x="440.70" y="299.50" font-size="10.5" text-anchor="middle" font-weight="normal" fill="#000">0</text>
<text x="478.60" y="299.50" font-size="10.5" text-anchor="middle" font-weight="normal" fill="#000">100</text>
<text x="516.50" y="299.50" font-size="10.5" text-anchor="middle" font-weight="normal" fill="#000">200</text>
<text x="554.40" y="299.50" font-size="10.5" text-anchor="middle" font-weight="normal" fill="#000">300</text>
<text x="501.80" y="314.30" font-size="11" text-anchor="middle" font-weight="normal" fill="#000">T (K)</text>
<text transform="translate(420.6 270.8) rotate(-90)" font-size="11.5">ΔR<tspan font-size="7" dy="2.5">NL,asym amp</tspan><tspan dy="-2.5"> (mΩ)</tspan></text>
<text x="391.40" y="170.90" font-size="11" text-anchor="start" font-weight="bold" fill="#000">e</text>
</svg>
</body></html>
